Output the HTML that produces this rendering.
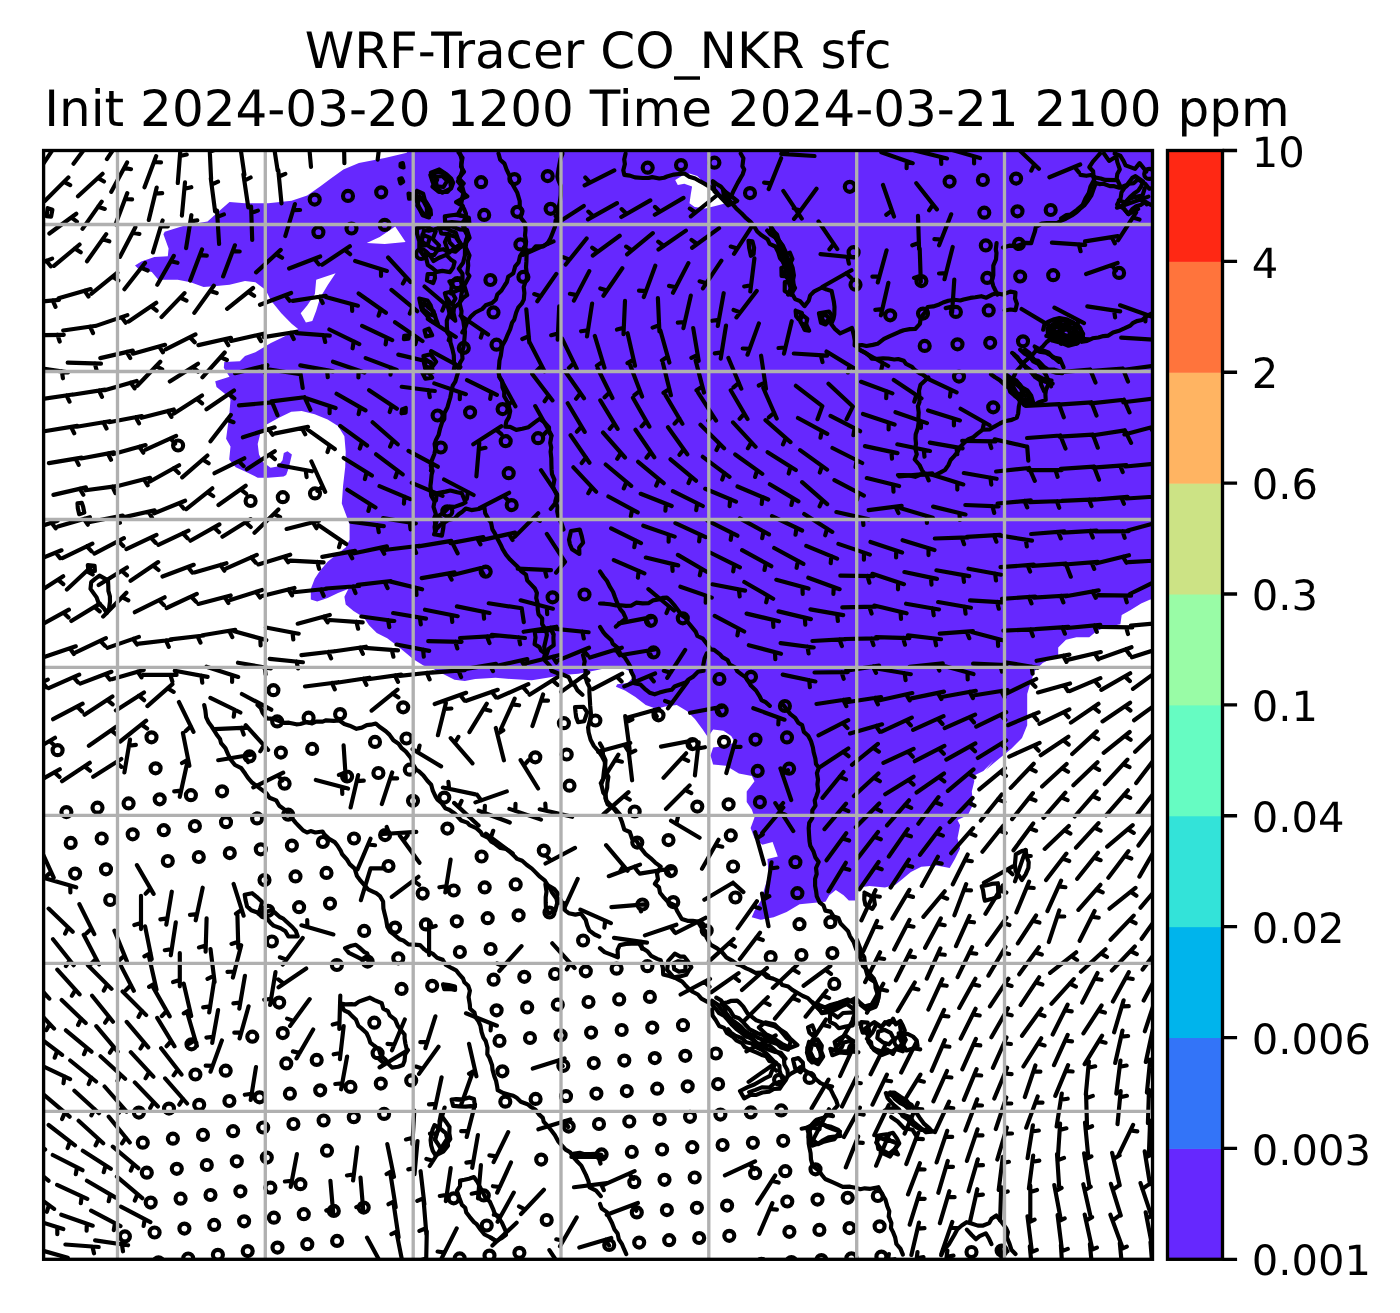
<!DOCTYPE html>
<html><head><meta charset="utf-8"><title>WRF-Tracer CO_NKR sfc</title>
<style>html,body{margin:0;padding:0;background:#fff;overflow:hidden}svg{will-change:transform}svg text{font-family:"DejaVu Sans","Liberation Sans",sans-serif;fill:#000;text-rendering:geometricPrecision}</style>
</head><body>
<svg width="1400" height="1313" viewBox="0 0 1400 1313" style="display:block">
<rect width="1400" height="1313" fill="#fff"/>
<defs><clipPath id="ax"><rect x="43.6" y="150.5" width="1108.9" height="1108.8"/></clipPath></defs>
<g clip-path="url(#ax)">
<path d="M406.8 150.5L1152.5 150.5L1152.5 599.6L1150.2 599.6L1141.1 603.5L1130.7 610.0L1121.7 615.1L1120.4 624.2L1107.4 626.8L1097.1 630.7L1089.3 637.2L1076.4 637.2L1066.0 639.7L1058.2 647.5L1058.2 655.3L1042.7 663.1L1034.9 670.8L1031.0 681.2L1027.2 694.1L1027.2 709.7L1027.2 725.2L1022.0 738.1L1011.6 748.5L998.7 758.9L985.7 770.0L993.8 760.5L983.4 770.9L973.1 776.1L974.3 781.3L971.8 791.6L973.1 804.6L967.9 814.9L957.5 820.1L960.1 825.3L957.5 838.2L960.1 848.6L954.9 858.9L949.7 868.0L936.8 865.4L921.3 866.7L910.9 871.9L903.1 878.4L895.4 884.8L885.0 887.4L869.5 886.1L859.1 887.4L856.5 900.4L848.8 900.4L843.6 895.2L835.8 890.0L829.3 895.2L825.5 901.7L812.5 903.0L799.6 904.3L786.6 912.0L773.7 917.2L760.7 919.8L751.7 917.2L754.5 910.7L761.0 900.4L764.8 887.4L768.7 874.5L767.4 858.9L777.8 856.4L772.6 842.1L762.3 844.7L754.5 838.2L750.6 827.9L754.5 817.5L751.9 809.7L746.7 802.0L746.7 791.6L754.5 781.3L751.9 776.1L738.9 773.5L726.0 765.7L713.1 764.4L710.5 755.4L713.1 747.6L723.4 746.3L735.1 742.4L731.2 735.9L723.4 730.8L713.1 729.5L707.9 737.2L702.7 729.5L694.9 719.1L687.2 711.3L676.8 704.9L666.4 706.2L656.1 708.8L645.7 704.9L635.4 697.1L625.0 690.6L615.9 686.7L617.2 684.2L627.6 682.9L632.8 677.7L630.2 671.2L619.8 666.8L604.3 668.6L591.3 671.2L578.4 673.8L562.9 675.1L547.3 677.7L531.8 680.3L511.1 679.0L495.5 677.7L475.2 679.1L464.8 681.0L454.5 679.7L444.1 674.5L433.8 669.3L423.4 665.4L413.1 658.9L405.3 652.5L397.5 646.0L387.2 638.2L376.8 633.1L369.0 625.3L363.9 617.5L353.5 611.0L345.7 604.6L344.4 596.8L348.3 589.0L338.0 592.9L327.6 598.1L317.2 601.5L310.8 599.4L310.8 589.0L314.7 578.7L319.8 570.9L327.6 561.8L335.4 555.4L345.7 547.6L349.6 539.8L349.6 524.3L345.7 513.9L341.8 503.6L343.1 485.5L345.2 467.3L345.7 451.8L344.4 436.3L338.0 425.9L327.6 419.4L314.7 414.2L301.7 410.9L291.3 411.7L278.4 418.1L266.7 424.6L260.3 433.7L257.7 444.0L259.0 454.4L262.9 462.1L270.6 467.8L277.6 466.5L282.5 460.3L283.8 453.1L287.5 451.3L291.9 454.4L288.8 467.8L286.2 475.1L283.6 476.4L268.0 477.7L257.7 477.7L247.3 472.5L235.7 467.3L229.2 459.6L230.5 446.6L226.1 438.8L229.2 415.5L230.5 400.0L229.5 397.5L223.0 392.3L216.5 387.1L215.2 381.2L221.7 379.3L229.5 376.8L223.8 367.7L224.3 362.0L239.8 361.2L245.0 356.0L255.4 352.2L270.9 343.1L281.3 337.9L291.6 332.7L298.1 328.9L291.6 323.7L281.3 313.3L270.9 300.4L265.7 290.0L255.4 282.2L245.0 280.9L229.5 284.8L216.5 286.1L203.6 286.9L190.6 282.2L177.7 279.7L158.3 279.7L151.8 271.9L138.8 269.3L135.0 265.4L141.4 261.5L154.4 256.9L167.8 256.3L168.6 248.6L163.4 234.3L164.7 231.7L185.5 225.3L207.5 221.4L217.8 212.3L229.5 202.0L245.0 203.3L268.3 203.3L291.6 200.7L307.2 195.5L320.1 186.4L330.5 178.7L343.4 169.6L358.9 163.1L384.8 157.9L406.9 152.8ZM366.7 242.9L379.7 236.9L395.2 226.6L405.6 242.1L384.8 243.9ZM316.2 279.7L335.6 273.2L327.9 284.8L320.1 297.8L316.2 310.7L312.3 321.1L305.9 322.4L300.7 313.3L307.2 305.5L314.9 293.9ZM675.2 180.0L681.7 176.1L689.5 173.5L697.2 176.1L705.0 183.8L715.4 192.9L725.7 203.3L715.4 205.9L705.0 208.4L694.7 207.1L689.5 203.3L690.8 194.2L692.1 186.4L684.3 183.8L677.8 185.1Z" fill="#6628fe" fill-rule="evenodd"/>
<path d="M460.1 153.5L461.7 159.9L461.3 164.3L462.3 170.3L460.8 175.4L457.9 181.5L462.2 186.6L463.8 192.6L462.5 196.6L461.2 203.8L464.1 209.0L466.0 213.8L465.4 219.1L462.2 222.9L464.2 229.5L467.6 235.8L465.9 240.8L464.8 246.0L465.0 249.3L464.9 255.6L463.1 262.7L458.8 268.7L462.5 273.7L462.5 281.0L463.6 285.9L461.6 293.4L460.9 298.4L459.7 303.8L461.5 311.0L461.2 315.7L463.3 321.1L464.1 326.4L465.0 331.9L464.6 336.8L464.1 342.0L463.5 347.0L462.0 352.1L462.5 358.7L460.0 362.9L458.6 370.6L456.9 376.2L455.3 381.7L452.7 385.7L451.6 390.7L450.3 397.5L448.9 402.2L447.4 407.5L444.5 413.0L444.3 419.0L442.2 422.2L440.1 428.6L438.6 434.9L436.0 439.9L434.6 443.9L435.3 449.5L434.3 454.2L431.5 461.1L430.8 465.9L432.6 470.9L431.6 474.7L431.0 481.4L430.4 485.9L431.0 492.8L431.2 495.6L434.6 501.4L433.5 506.8L435.8 514.0L434.3 518.0L435.1 522.9L435.9 529.2L434.1 534.4" fill="none" stroke="#000" stroke-width="4.17" stroke-linejoin="round" stroke-linecap="round"/>
<path d="M498.5 153.5L500.2 159.8L504.5 163.6L506.5 169.4L509.5 175.6L510.2 180.0L514.3 187.5L517.3 192.8L519.7 201.0L519.8 207.3L522.3 210.6L520.7 217.6L525.2 223.6L525.5 230.1L525.0 235.3L526.1 241.7L525.5 246.7L522.6 252.2L520.0 256.1L518.6 262.4L515.2 266.4L513.3 273.2L508.2 276.8L506.9 282.0L504.6 285.5L501.5 290.5L497.3 294.5L495.9 299.4L492.1 303.0L485.6 305.3L482.2 309.0L475.3 312.5L471.3 316.1L467.6 321.1L465.1 327.7L462.3 332.4" fill="none" stroke="#000" stroke-width="4.17" stroke-linejoin="round" stroke-linecap="round"/>
<path d="M547.5 243.1L543.4 246.4L535.7 246.3L532.4 250.1L526.7 251.1L526.5 257.2L526.4 261.4L526.0 267.3L526.8 274.2L527.0 278.2L525.2 282.6L523.7 287.1L524.4 293.0L523.8 299.6L521.7 303.7L518.4 307.3L516.2 312.5L514.2 319.7L512.1 322.6L510.2 329.2L507.6 334.8L505.6 339.8L502.4 345.6L501.8 348.8L500.8 355.6L499.5 360.5L499.0 366.8L498.5 371.9L499.4 377.2L502.1 381.2L502.5 387.5L504.2 391.5L504.2 396.2L506.8 400.7L508.8 406.0L510.2 411.1L508.9 417.1L506.3 421.6L505.3 426.7L510.1 426.9L516.3 429.9L522.3 428.8L528.5 427.2L534.4 422.6L539.6 418.9L544.7 422.7L549.0 427.5L549.1 431.7L551.4 436.1L550.2 442.8L551.2 447.5L550.6 451.7L551.3 458.2L551.4 464.6L551.6 469.7L552.0 474.2L554.4 479.6L553.1 486.7L554.5 490.1L556.9 495.5L555.3 501.2L557.6 507.3L557.2 511.4L558.4 517.3L561.7 523.8L563.5 529.5" fill="none" stroke="#000" stroke-width="4.17" stroke-linejoin="round" stroke-linecap="round"/>
<path d="M562.5 153.5L560.4 159.3L559.3 165.2L558.5 169.5L557.4 176.6L558.4 180.1L560.8 185.9L560.8 191.0L560.7 195.3L559.8 202.3L558.7 207.0L558.2 210.4L557.6 216.9L555.6 220.6L554.9 227.0L552.4 233.4L550.2 238.9L547.3 243.9" fill="none" stroke="#000" stroke-width="4.17" stroke-linejoin="round" stroke-linecap="round"/>
<path d="M436.6 528.9L440.2 525.0L444.9 522.3L448.3 520.1L454.8 518.4L458.7 514.3L462.3 511.7L465.7 508.6L471.4 510.1L478.7 509.0L484.3 506.7L485.2 513.2L488.4 519.1L491.0 522.4L492.4 529.3L494.7 533.1L497.1 538.0L500.9 545.2L502.5 548.8L506.0 554.6L510.1 559.6L513.4 562.8L517.9 567.1L521.1 571.0L526.0 574.6L527.2 580.4L531.0 584.4L534.7 588.2L536.9 592.9L536.2 598.0L537.6 603.3L537.8 609.7L538.5 614.3L542.2 618.4L542.1 624.1L546.1 630.4L546.9 635.0L545.6 640.7L544.2 646.7L545.4 652.7L543.9 658.0L544.9 660.5L550.2 666.1L551.6 670.8L557.8 673.3L562.6 674.5L568.7 677.2L571.8 683.6L574.8 685.4L577.3 690.1L582.4 694.8" fill="none" stroke="#000" stroke-width="4.17" stroke-linejoin="round" stroke-linecap="round"/>
<path d="M571.0 531.0L579.8 529.5L581.8 536.4L583.1 542.7L579.2 547.5L579.4 554.0L572.0 549.2L569.9 544.2L569.0 539.7L571.0 531.0" fill="none" stroke="#000" stroke-width="4.17" stroke-linejoin="round" stroke-linecap="round"/>
<path d="M430.3 174.9L439.5 171.4L444.1 173.2L448.1 177.4L450.4 183.0L451.2 188.4L442.5 192.7L435.1 187.4L432.5 181.7L430.3 174.9" fill="none" stroke="#000" stroke-width="4.17" stroke-linejoin="round" stroke-linecap="round"/>
<path d="M419.6 196.2L422.3 199.5L426.4 203.6L428.2 210.8L429.1 217.5L422.7 215.2L419.5 209.0L417.3 205.6L419.6 196.2" fill="none" stroke="#000" stroke-width="4.17" stroke-linejoin="round" stroke-linecap="round"/>
<path d="M423.9 230.3L428.8 230.8L434.3 229.4L439.8 227.5L447.2 228.8L451.2 230.9L455.7 232.4L458.2 239.7L461.2 244.5L454.6 247.8L449.2 252.7L443.4 249.2L437.4 250.1L431.2 247.7L426.7 244.6L421.3 241.5L422.8 236.0L423.9 230.3" fill="none" stroke="#000" stroke-width="4.17" stroke-linejoin="round" stroke-linecap="round"/>
<path d="M426.0 251.6L430.2 255.6L433.6 261.1L438.6 258.0L446.2 254.8L450.7 259.4L454.6 262.0L453.2 267.5L450.0 272.1L442.4 270.9L436.7 271.9L432.6 268.3L427.8 265.1L426.0 257.5L426.0 251.6" fill="none" stroke="#000" stroke-width="4.17" stroke-linejoin="round" stroke-linecap="round"/>
<path d="M449.4 281.5L455.0 280.2L460.3 278.6L462.0 285.5L462.6 289.1L457.0 290.6L450.9 293.3L451.8 285.6L449.4 281.5" fill="none" stroke="#000" stroke-width="4.17" stroke-linejoin="round" stroke-linecap="round"/>
<path d="M423.9 302.8L428.0 307.2L433.5 311.2L435.6 318.0L438.0 324.2L430.6 320.6L425.6 314.0L421.9 310.0L423.9 302.8" fill="none" stroke="#000" stroke-width="4.17" stroke-linejoin="round" stroke-linecap="round"/>
<path d="M447.3 298.5L450.4 303.2L454.1 306.1L453.5 313.1L455.3 320.7L449.9 315.9L448.9 310.3L447.1 304.1L447.3 298.5" fill="none" stroke="#000" stroke-width="4.17" stroke-linejoin="round" stroke-linecap="round"/>
<path d="M423.9 358.3L430.9 363.0L432.9 372.0L425.2 368.2L424.0 362.9L423.9 358.3" fill="none" stroke="#000" stroke-width="4.17" stroke-linejoin="round" stroke-linecap="round"/>
<path d="M432.4 494.7L437.8 493.1L445.6 491.6L450.3 490.5L457.2 492.3L461.7 493.1L464.1 498.7L465.5 502.5L461.9 504.3L454.5 506.9L449.8 506.6L444.2 512.2L437.9 516.5L436.4 520.6L434.9 525.2L435.8 530.7" fill="none" stroke="#000" stroke-width="4.17" stroke-linejoin="round" stroke-linecap="round"/>
<path d="M436.6 516.1L441.1 519.1L443.7 523.7L443.2 528.7L441.9 535.7L435.4 534.4L434.6 527.0L436.5 521.2L436.6 516.1" fill="none" stroke="#000" stroke-width="4.17" stroke-linejoin="round" stroke-linecap="round"/>
<path d="M91.2 582.2L95.1 578.9L99.5 575.6L108.0 580.4L108.3 586.1L108.4 590.9L109.9 596.2L110.0 601.6L109.1 608.2L106.7 613.0L103.9 608.2L98.5 602.7L96.6 597.4L90.5 588.9L91.2 582.2" fill="none" stroke="#000" stroke-width="4.17" stroke-linejoin="round" stroke-linecap="round"/>
<path d="M87.8 565.1L94.6 565.9L94.9 571.0L88.5 571.2L87.8 565.1" fill="none" stroke="#000" stroke-width="4.17" stroke-linejoin="round" stroke-linecap="round"/>
<path d="M77.5 503.3L81.8 502.8L83.1 506.7L84.3 512.6L79.2 514.2L77.8 508.2L77.5 503.3" fill="none" stroke="#000" stroke-width="4.17" stroke-linejoin="round" stroke-linecap="round"/>
<path d="M47.7 208.1L52.4 209.7L51.1 216.7L46.5 216.2L47.7 208.1" fill="none" stroke="#000" stroke-width="4.17" stroke-linejoin="round" stroke-linecap="round"/>
<path d="M534.7 631.2L541.5 631.0L546.8 630.8L551.2 629.4L553.6 635.0L553.4 638.2L553.7 645.3L548.6 648.9L546.6 654.5L541.1 650.6L539.4 647.1L534.6 644.3L535.5 637.6L534.7 631.2" fill="none" stroke="#000" stroke-width="4.17" stroke-linejoin="round" stroke-linecap="round"/>
<path d="M625.6 153.5L624.2 159.4L624.9 164.1L623.3 170.3L624.3 174.9L629.9 175.6L635.0 177.4L642.9 178.0L648.5 178.0L652.2 177.1L659.3 178.5L664.1 177.7L667.0 176.5L673.9 174.6L680.8 173.8L684.4 173.5L689.3 176.7L695.1 178.5L699.8 181.2L704.4 183.6L711.1 187.7L715.9 191.2L720.6 197.2L724.3 201.1L728.2 205.3" fill="none" stroke="#000" stroke-width="4.17" stroke-linejoin="round" stroke-linecap="round"/>
<path d="M740.7 153.5L743.4 158.3L742.4 166.2L744.2 169.6L742.6 174.5L740.3 178.4L737.7 182.9L733.9 190.2L731.3 195.9L728.5 199.3L733.2 204.9L736.0 208.2L741.7 213.5L746.2 218.2L750.5 221.9L754.1 226.3L757.2 231.5L761.6 235.3L767.5 239.2L769.7 243.9L775.3 246.5L778.0 251.7L780.0 258.1L783.4 262.3L785.3 268.0L788.7 272.5L788.4 278.5L789.3 283.9L791.0 288.8L792.4 294.3L795.1 299.1L800.1 301.2L804.5 306.1L808.7 300.7L810.2 295.4L814.3 291.3L821.9 287.5L826.7 289.6L831.6 290.9L833.1 298.2L833.9 302.0L834.5 307.0L834.3 314.3L833.5 318.7L831.2 324.1L834.6 328.6L840.1 333.3L845.2 331.1L852.0 328.0L853.8 334.9L854.8 340.9L854.6 345.5L861.9 345.0L866.4 346.0L872.8 344.9L877.5 343.8L884.0 338.8L889.3 336.3L899.5 331.8L903.7 330.2L909.8 329.1L915.2 329.0L919.9 323.9L920.8 317.4L926.1 311.2L927.6 307.0L933.2 306.4L939.2 304.4L943.1 302.5L948.3 300.8L954.4 299.8L960.3 300.5L963.5 299.6L970.3 297.9L975.3 297.3L981.3 296.2L986.3 297.7L992.2 294.6L996.7 293.3L1002.6 294.5L1010.3 291.6L1015.5 292.5L1015.0 298.6L1016.9 303.7L1015.5 310.1L1010.5 309.5L1004.6 310.5" fill="none" stroke="#000" stroke-width="4.17" stroke-linejoin="round" stroke-linecap="round"/>
<path d="M770.6 226.0L774.4 232.0L777.0 234.5L778.8 240.2L781.3 244.3L782.6 250.1L784.8 255.1L786.4 259.1L786.5 266.3L784.3 273.6L787.3 278.2L791.8 286.0L788.1 294.6" fill="none" stroke="#000" stroke-width="4.17" stroke-linejoin="round" stroke-linecap="round"/>
<path d="M774.9 236.7L778.1 241.8L779.4 246.5L782.1 249.9L784.5 254.4L786.8 259.3L790.4 264.4L791.8 269.6L792.1 274.1L789.8 282.7" fill="none" stroke="#000" stroke-width="4.17" stroke-linejoin="round" stroke-linecap="round"/>
<path d="M996.6 243.1L995.8 249.5L996.5 253.0L996.0 259.4L993.3 265.6L993.3 269.2L993.3 275.3L991.9 280.9L993.2 285.8L997.4 294.6" fill="none" stroke="#000" stroke-width="4.17" stroke-linejoin="round" stroke-linecap="round"/>
<path d="M1003.0 247.4L1009.2 245.7L1013.4 245.9L1018.5 245.5L1025.9 242.8L1031.2 243.1L1032.5 238.6L1034.9 231.5L1035.9 226.8L1041.6 223.7L1046.8 223.2L1050.1 223.1L1057.2 223.0L1061.3 220.5L1065.8 218.7L1071.8 215.5L1076.7 212.1L1079.6 209.2L1084.2 205.5L1088.2 200.2L1091.4 195.4L1093.6 189.1L1095.9 183.1L1099.5 184.1L1103.5 183.7L1109.8 186.1L1113.5 186.0L1119.3 187.7L1125.9 186.6L1129.0 183.8L1133.9 183.1L1137.9 179.3L1140.5 180.9L1145.2 183.7L1149.2 188.8L1154.7 187.6L1160.7 186.2" fill="none" stroke="#000" stroke-width="4.17" stroke-linejoin="round" stroke-linecap="round"/>
<path d="M1094.7 183.4L1093.7 178.2L1093.1 171.2L1089.3 167.2L1092.9 161.7L1097.0 157.0L1100.1 153.5" fill="none" stroke="#000" stroke-width="4.17" stroke-linejoin="round" stroke-linecap="round"/>
<path d="M1124.6 187.7L1121.5 192.4L1120.6 198.2L1117.2 204.6L1123.3 208.2L1128.6 214.1L1132.2 209.2L1136.2 206.2L1140.6 204.9L1145.4 201.7L1149.7 204.3L1155.3 206.6L1160.4 208.4" fill="none" stroke="#000" stroke-width="4.17" stroke-linejoin="round" stroke-linecap="round"/>
<path d="M1160.0 309.2L1155.7 311.2L1152.0 313.5L1146.8 316.0L1142.1 320.0L1136.8 321.1L1132.7 323.2L1130.3 325.6L1124.9 328.2L1119.9 330.4L1113.1 332.5L1108.4 335.6L1103.4 336.1L1098.4 337.5L1092.6 338.3L1087.0 340.9L1082.0 341.8L1077.3 339.3L1071.7 336.7L1066.3 335.5L1059.6 333.8L1056.0 334.9L1051.2 338.6L1046.7 342.0L1043.3 345.9L1039.2 349.8L1035.4 351.4L1031.7 355.6L1027.7 358.9L1024.5 361.8L1019.5 368.0L1015.7 372.1L1014.8 374.4L1010.7 382.8L1010.6 389.1L1013.6 393.0L1016.1 395.4L1020.4 401.9L1026.2 402.4L1028.8 402.9L1034.9 404.5L1039.1 402.2L1045.7 399.9L1045.4 394.3L1045.9 390.3L1048.8 383.1" fill="none" stroke="#000" stroke-width="4.17" stroke-linejoin="round" stroke-linecap="round"/>
<path d="M1047.8 322.0L1054.3 319.3L1059.4 318.1L1066.3 319.2L1073.2 322.4L1079.0 327.2L1083.2 333.9L1077.0 335.8L1072.5 342.1L1068.7 341.6L1064.7 340.2L1058.6 337.9L1053.0 336.7L1050.4 333.3L1049.1 327.8L1047.8 322.0" fill="none" stroke="#000" stroke-width="4.17" stroke-linejoin="round" stroke-linecap="round"/>
<path d="M1052.1 326.3L1057.2 324.2L1064.6 324.6L1069.3 326.3L1074.9 331.2L1070.4 334.4L1067.4 336.0L1061.8 335.7L1056.1 336.1L1052.1 326.3" fill="none" stroke="#000" stroke-width="4.17" stroke-linejoin="round" stroke-linecap="round"/>
<path d="M1013.7 354.0L1016.9 357.5L1021.7 363.6L1026.5 367.4L1029.7 371.1L1035.9 375.4L1040.5 380.6L1041.1 384.7L1044.2 391.4" fill="none" stroke="#000" stroke-width="4.17" stroke-linejoin="round" stroke-linecap="round"/>
<path d="M1020.1 349.7L1024.6 353.6L1029.5 356.3L1033.3 361.4L1038.2 363.8L1041.8 369.2L1045.7 374.4L1047.9 379.4L1051.1 386.3" fill="none" stroke="#000" stroke-width="4.17" stroke-linejoin="round" stroke-linecap="round"/>
<path d="M1020.1 400.9L1018.8 406.8L1018.2 413.3L1016.8 417.6L1011.7 419.9L1004.7 421.2L999.9 423.5L993.9 426.8L989.9 429.3L982.8 429.6L977.5 433.7L973.4 437.2L967.9 439.5L964.0 443.0L959.9 447.1L957.3 452.4L954.2 456.1L950.6 460.0L948.4 465.1L945.0 470.0L940.6 472.4L935.3 475.0L931.3 474.2L925.9 474.6L920.8 474.5L915.2 476.8L909.0 475.4L902.9 475.0L897.9 475.0" fill="none" stroke="#000" stroke-width="4.17" stroke-linejoin="round" stroke-linecap="round"/>
<path d="M928.4 377.4L924.3 381.3L920.5 384.8L919.0 390.7L919.3 395.9L919.5 402.0L917.9 406.2L918.7 412.5L918.4 417.6L918.7 422.0L917.8 428.3L915.7 434.4L915.5 438.6L916.0 443.7L915.3 448.8L916.8 454.2L914.7 459.5L919.5 465.0L922.1 470.4L924.1 473.1" fill="none" stroke="#000" stroke-width="4.17" stroke-linejoin="round" stroke-linecap="round"/>
<path d="M855.9 345.5L859.7 349.9L865.6 352.9L869.5 356.0L871.7 358.6L877.4 358.9L883.0 358.4L888.4 358.5L894.3 359.5L898.2 359.0L903.8 360.8L906.1 363.9L912.0 366.8L914.8 370.0L919.4 373.1L923.3 375.0L928.1 378.7" fill="none" stroke="#000" stroke-width="4.17" stroke-linejoin="round" stroke-linecap="round"/>
<path d="M800.5 313.5L807.3 318.8L805.0 329.3L800.5 322.0L800.5 313.5" fill="none" stroke="#000" stroke-width="4.17" stroke-linejoin="round" stroke-linecap="round"/>
<path d="M600.0 571.5L603.6 576.7L607.0 581.0L610.1 587.2L613.1 592.0L615.0 597.3L617.5 603.7L620.4 609.4L623.2 612.6L625.9 618.5L620.4 622.8L615.8 626.6" fill="none" stroke="#000" stroke-width="4.17" stroke-linejoin="round" stroke-linecap="round"/>
<path d="M600.0 603.5L604.6 603.7L609.9 604.3L616.2 605.5L620.7 605.3L625.8 605.9L631.5 605.6L636.2 602.7L642.5 603.3L648.4 603.2L652.9 600.4L658.6 599.5L662.5 597.9L666.9 597.6L670.3 600.5L674.9 605.9L678.1 610.2L681.8 615.3L685.7 618.1L687.5 621.7L691.1 626.1L695.8 631.9L697.4 636.0L702.9 638.7L707.4 644.6L710.8 649.4L714.1 649.9L720.0 654.4L722.4 657.1L727.5 660.0L729.8 664.7L735.4 667.6L737.2 671.1L741.8 674.6L745.8 677.4L749.4 683.0L750.9 685.6L756.0 690.5L759.7 696.3L761.5 700.1L765.6 702.2L769.8 705.8" fill="none" stroke="#000" stroke-width="4.17" stroke-linejoin="round" stroke-linecap="round"/>
<path d="M600.0 626.9L603.3 632.2L605.6 634.9L611.4 640.2L612.7 643.6L618.0 648.1L620.1 653.6L624.6 657.2L627.6 661.8L630.2 666.2L631.0 671.2L633.6 676.4L634.2 683.3L640.4 684.5L645.8 689.7L649.6 692.7L654.7 694.3L659.5 692.6L666.2 690.8L671.6 689.8L674.6 686.5L679.2 684.7L685.6 682.6L688.5 679.5L692.8 676.9L698.0 671.8L703.6 670.8L703.3 665.0L704.6 658.3L706.8 653.3" fill="none" stroke="#000" stroke-width="4.17" stroke-linejoin="round" stroke-linecap="round"/>
<path d="M204.2 705.0L205.3 710.0L206.2 717.4L208.7 722.6L211.3 726.0L214.4 730.8L217.2 735.3L220.0 739.0L221.1 743.2L225.4 748.2L228.1 754.4L230.8 759.8L235.0 765.0L241.3 768.2L245.3 773.8L248.0 777.9L252.3 782.8L258.0 786.8L260.6 788.8L266.4 793.2L269.5 797.7L276.2 800.4L279.3 805.7L285.0 809.9L288.8 813.5L291.1 817.1L295.8 822.9L299.3 826.5L303.1 830.4L307.0 832.5L310.6 831.1L315.3 832.5L322.5 831.5L324.7 834.8L329.1 838.9L334.7 842.1L337.4 845.5L340.9 851.2L342.1 854.1L347.0 859.7L349.7 864.1L354.7 868.6L357.0 876.1L360.7 880.9L364.4 885.2L368.1 889.4L373.3 891.8L376.2 893.2L380.0 896.1L383.1 901.5L383.4 908.5L384.6 913.5L386.2 920.1L387.3 926.7L390.0 931.6L394.1 934.6L399.5 939.2L403.4 940.5L408.4 944.3L414.3 944.6L420.0 945.1L424.4 949.4L427.0 951.3L432.6 953.6L437.1 957.7L442.7 959.7L445.7 964.7L451.9 968.2L456.1 970.3L458.9 973.9L463.0 978.5L464.4 982.2L468.2 985.8L469.9 990.7L468.6 997.1L469.8 1004.4L470.1 1008.7L474.5 1012.6L475.4 1017.0L478.5 1021.4L480.4 1025.6L481.6 1032.2L483.4 1037.6L485.7 1041.0L487.5 1047.7L487.3 1054.2L489.4 1057.8L492.1 1065.3L492.5 1069.6L494.3 1076.3L496.1 1081.0L497.2 1086.6L497.7 1090.2L503.4 1093.1L509.2 1094.7L513.3 1095.8L516.7 1097.8L520.8 1101.8L527.5 1104.2L531.1 1107.0L535.5 1109.8L538.7 1114.1L542.8 1117.9L543.8 1121.9L548.4 1126.8L551.8 1131.0L554.8 1135.0L558.2 1141.3L561.3 1144.8L565.6 1149.6L570.1 1152.2L574.0 1157.8L576.3 1160.5L581.3 1165.6L583.9 1170.9L585.9 1174.9L588.5 1181.3L589.6 1187.4L596.1 1190.6L600.8 1196.1" fill="none" stroke="#000" stroke-width="4.17" stroke-linejoin="round" stroke-linecap="round"/>
<path d="M257.5 705.0L260.7 708.0L262.6 712.8L266.7 718.3L273.5 718.9L278.6 720.8L283.8 722.8L289.0 722.7L296.3 724.3L300.3 724.0L306.9 722.1L312.1 723.4L316.0 721.6L322.7 721.6L326.1 720.3L333.8 720.9L339.4 720.5L344.3 724.0L349.6 725.7L356.5 728.8L361.9 727.6L366.8 725.1L370.9 724.7L375.8 723.5L380.2 727.3L385.8 731.3L389.4 734.6L393.4 740.3L398.6 743.7L401.7 748.2L405.9 751.6L410.9 758.0L412.6 763.8L416.2 769.7L418.9 771.3L423.4 775.5L427.4 780.8L431.2 784.8L432.8 790.7L435.6 796.6L437.5 799.6L441.8 803.2L445.4 808.4L449.2 809.8L455.0 813.8L456.9 815.8L461.2 820.5L467.3 822.6L469.6 825.2L476.3 828.2L480.5 831.8L482.3 834.9L488.3 838.0L491.5 841.8L495.3 844.0L500.5 848.0L505.9 848.9L509.2 851.3L514.5 856.3L517.2 858.9L522.2 860.8L526.9 865.0L531.9 868.6L534.9 871.6L539.9 876.7L545.0 880.7L546.3 883.0L550.7 889.6L552.1 892.6L555.7 897.6L561.0 900.2L563.1 905.6L565.4 910.7L568.7 913.2L575.4 914.6L580.9 913.5L585.8 920.1L587.2 925.4L589.2 930.3L594.7 934.5L599.3 936.7" fill="none" stroke="#000" stroke-width="4.17" stroke-linejoin="round" stroke-linecap="round"/>
<path d="M244.7 894.8L252.1 893.2L256.6 896.8L262.2 902.0L260.6 907.6L258.4 913.8L264.6 912.8L270.4 910.4L274.4 912.1L279.8 917.0L282.8 918.3L287.4 922.5L292.3 927.0L295.9 931.2L297.7 936.3L288.4 936.5L285.4 931.2L280.6 928.3L273.5 925.6L270.5 922.9L266.5 917.9L262.1 916.9L257.5 912.5L251.2 910.2L247.1 906.4L245.5 900.0L244.7 894.8" fill="none" stroke="#000" stroke-width="4.17" stroke-linejoin="round" stroke-linecap="round"/>
<path d="M340.7 1003.6L345.4 1004.4L351.6 1004.1L354.9 1004.5L358.9 1001.6L363.3 1000.0L369.7 997.7L374.5 1000.1L381.7 1003.1L383.3 1008.7L387.9 1011.1L389.7 1015.3L395.2 1019.6L397.9 1026.1L399.9 1028.8L404.6 1034.5L404.6 1038.5L405.4 1043.6L407.2 1051.3L405.2 1054.2L404.5 1061.0L402.9 1065.0L398.1 1066.8L392.1 1067.6L387.6 1063.1L385.5 1059.5L380.8 1055.6L378.9 1049.3L373.9 1045.5L370.3 1042.6L368.8 1037.8L366.5 1033.0L361.2 1028.1L358.4 1025.8L355.9 1019.5L351.9 1015.9L348.8 1012.5L344.1 1010.3L340.7 1003.6" fill="none" stroke="#000" stroke-width="4.17" stroke-linejoin="round" stroke-linecap="round"/>
<path d="M460.1 1180.6L464.5 1179.8L469.0 1178.7L473.9 1177.1L477.3 1181.7L480.2 1187.6L482.4 1191.5L485.5 1197.7L489.9 1201.8L493.0 1208.8L494.5 1213.0L499.7 1219.3L501.9 1222.6L505.6 1230.8L506.0 1234.9L502.3 1237.7L496.1 1241.2L490.6 1237.5L484.5 1234.5L480.8 1230.0L476.7 1224.2L474.0 1222.1L469.8 1217.1L466.3 1212.5L465.2 1207.7L462.0 1204.9L459.2 1197.5L456.9 1190.9L460.0 1186.2L460.1 1180.6" fill="none" stroke="#000" stroke-width="4.17" stroke-linejoin="round" stroke-linecap="round"/>
<path d="M345.0 948.1L351.3 945.7L355.8 944.8L359.2 947.4L364.4 952.1L367.2 953.4L370.1 961.7L366.1 958.9L361.0 958.8L356.1 956.3L348.9 952.9L345.0 948.1" fill="none" stroke="#000" stroke-width="4.17" stroke-linejoin="round" stroke-linecap="round"/>
<path d="M440.9 1114.4L443.4 1118.5L446.5 1122.6L449.5 1127.0L449.3 1133.4L450.3 1139.0L445.6 1145.5L440.9 1148.7L438.8 1145.3L434.7 1139.3L436.7 1133.3L440.0 1126.0L439.5 1121.3L440.9 1114.4" fill="none" stroke="#000" stroke-width="4.17" stroke-linejoin="round" stroke-linecap="round"/>
<path d="M434.5 1125.1L440.0 1128.4L445.7 1133.1L447.4 1139.2L448.0 1145.6L443.2 1151.7L435.6 1155.4L432.7 1150.7L431.2 1145.5L430.6 1140.0L431.2 1135.8L432.6 1129.5L434.5 1125.1" fill="none" stroke="#000" stroke-width="4.17" stroke-linejoin="round" stroke-linecap="round"/>
<path d="M451.6 1099.5L456.3 1099.0L462.3 1099.5L469.2 1097.4L473.9 1098.9L475.0 1106.5L470.7 1106.1L465.7 1106.6L459.4 1106.3L453.1 1105.8L451.6 1099.5" fill="none" stroke="#000" stroke-width="4.17" stroke-linejoin="round" stroke-linecap="round"/>
<path d="M545.4 884.1L549.7 886.4L554.3 889.1L558.1 893.9L556.4 897.9L557.2 903.0L555.2 910.6L548.8 913.5L546.0 909.5L545.7 902.9L545.7 897.3L546.5 891.7L545.4 884.1" fill="none" stroke="#000" stroke-width="4.17" stroke-linejoin="round" stroke-linecap="round"/>
<path d="M443.0 984.4L448.8 985.0L455.0 986.5L455.1 990.0L450.6 989.0L444.3 989.2L443.0 984.4" fill="none" stroke="#000" stroke-width="4.17" stroke-linejoin="round" stroke-linecap="round"/>
<path d="M573.1 1153.7L579.7 1152.8L584.5 1154.2L590.4 1154.2L595.7 1153.8L601.3 1154.7" fill="none" stroke="#000" stroke-width="4.17" stroke-linejoin="round" stroke-linecap="round"/>
<path d="M783.4 705.0L787.3 710.3L790.4 714.1L795.2 717.8L798.2 722.7L802.1 725.1L803.9 731.9L808.2 735.7L811.0 741.1L812.9 747.5L813.6 752.0L815.4 758.7L816.0 764.1L818.8 767.8L816.9 773.2L818.0 779.4L817.4 784.3L818.2 791.0L816.3 796.5L814.7 800.6L815.5 805.6L812.3 810.4L812.3 818.1L809.2 822.9L808.7 828.2L809.0 834.1L809.5 841.2L810.3 845.8L813.6 851.8L815.3 857.2L818.7 862.0L816.0 868.0L816.7 874.0L815.1 878.8L815.1 885.9L816.1 891.1L816.8 896.4L819.6 902.3L823.5 905.4L825.3 910.6L830.5 911.6L833.7 916.6L838.4 918.0L840.6 923.5L843.9 926.9L848.0 931.1L849.9 936.1L853.6 941.8L856.2 949.3L859.1 954.2L860.4 958.6L863.1 966.2L865.5 968.3L869.5 973.5L873.9 978.6L876.0 984.4L879.3 991.2L878.7 997.6L876.5 1004.3L869.7 1005.1L864.6 1006.6L860.4 1003.1L855.5 998.2L849.2 1001.6L841.9 1004.4L838.0 1005.7L830.4 1008.6L822.2 1012.5L817.5 1007.9L812.9 1002.5" fill="none" stroke="#000" stroke-width="4.17" stroke-linejoin="round" stroke-linecap="round"/>
<path d="M600.0 743.4L602.5 748.1L603.0 754.7L605.5 760.1L605.2 766.0L606.1 772.2L608.4 777.0L607.4 783.0L607.2 787.7L605.8 793.2L605.4 798.2L607.6 804.4L612.2 806.8L616.9 812.7L619.6 816.0L622.1 822.3L624.3 829.7L629.8 832.0L632.0 838.5L636.8 841.3L640.0 847.0L642.7 850.4L645.7 854.2L650.5 858.1L655.2 862.6L660.7 866.7L657.0 873.6L658.0 879.3L654.9 883.8L659.0 887.3L660.0 892.7L663.3 896.8L668.4 902.4L674.6 905.1L677.3 911.3L681.8 919.0L687.5 920.8L692.7 920.8L697.9 921.6L700.9 926.7L705.4 931.2L706.6 937.5L710.5 944.6L717.1 948.4L722.0 952.2L726.3 957.4L732.9 961.1L737.6 964.6L741.3 965.6L746.2 968.4L749.9 969.9L755.5 972.8L762.2 972.7L767.0 977.2L773.0 978.6L779.9 981.6L782.3 985.1L788.3 986.6L792.3 989.9L798.6 993.5L802.9 996.0L807.9 998.1L813.3 1003.5L816.6 1006.8" fill="none" stroke="#000" stroke-width="4.17" stroke-linejoin="round" stroke-linecap="round"/>
<path d="M600.0 948.1L604.6 952.1L610.5 954.4L617.9 957.3L617.6 949.9L619.8 945.1L626.0 943.9L631.7 943.6L639.0 943.7L642.7 948.4L647.3 951.2L651.2 955.8L657.1 958.9L660.7 960.2L662.9 967.9L663.2 974.4L669.4 976.0L676.2 978.4L682.2 981.7L684.9 984.7L689.5 989.5L693.1 992.0L697.9 994.5L701.4 998.7L706.4 1001.3L711.2 1003.6L716.0 1008.8L718.8 1012.9L724.2 1015.8L727.4 1019.5L732.0 1024.8L736.4 1029.1L740.9 1032.4L745.7 1036.4L752.0 1038.2L757.2 1043.2L765.0 1044.7L770.2 1046.0L775.4 1050.6L779.5 1053.5L783.9 1058.2L784.4 1064.8L787.4 1070.1L788.0 1075.3L786.0 1079.7L782.1 1085.1L779.6 1088.7L773.8 1089.0L769.0 1091.8L762.3 1092.5L756.3 1094.9L750.5 1095.0L744.2 1098.4L740.0 1091.0L747.7 1087.1L754.3 1084.5L760.4 1081.0L764.7 1078.5L770.0 1075.9L772.5 1069.4L775.8 1062.8L769.4 1061.1L766.2 1056.3L762.7 1055.3L756.8 1052.7L750.1 1049.9L744.7 1047.1L742.0 1043.1L736.3 1040.4L732.8 1036.6L726.9 1033.0L724.2 1027.9L719.2 1026.0L715.7 1020.0L712.5 1015.5L712.0 1009.4" fill="none" stroke="#000" stroke-width="4.17" stroke-linejoin="round" stroke-linecap="round"/>
<path d="M721.6 1003.6L727.7 1002.3L731.4 1000.8L737.2 1000.6L739.8 1002.9L743.3 1006.7L747.5 1013.4L751.4 1016.3L756.3 1020.3L762.2 1022.4L766.5 1024.0L774.5 1026.2L779.4 1029.3L783.3 1034.0L786.7 1038.1L790.8 1041.2L788.1 1049.7L781.0 1047.6L776.7 1043.5L771.1 1042.2L763.6 1040.0L757.9 1037.8L753.8 1035.2L748.9 1033.6L744.2 1030.1L740.7 1026.4L737.5 1024.0L733.7 1021.2L728.1 1017.3L726.0 1014.1L724.8 1007.7L721.6 1003.6" fill="none" stroke="#000" stroke-width="4.17" stroke-linejoin="round" stroke-linecap="round"/>
<path d="M728.0 1029.1L731.0 1032.6L735.2 1035.6L742.0 1038.2L746.2 1042.3L751.7 1043.5L757.0 1047.7L762.3 1050.2L767.6 1054.6L771.2 1058.4L775.0 1062.5L779.4 1065.6L779.6 1070.5L781.1 1075.6L783.2 1081.0L778.7 1082.1L773.5 1083.9L769.7 1087.6L761.8 1087.4L755.5 1089.9L749.1 1092.1" fill="none" stroke="#000" stroke-width="4.17" stroke-linejoin="round" stroke-linecap="round"/>
<path d="M668.2 960.9L674.8 953.7L680.3 956.7L684.1 956.5L687.5 960.8L691.4 967.2L688.6 970.7L686.3 974.8L679.9 976.4L673.5 977.2L667.1 969.9L668.2 960.9" fill="none" stroke="#000" stroke-width="4.17" stroke-linejoin="round" stroke-linecap="round"/>
<path d="M673.4 963.5L678.2 961.2L685.6 962.2L685.3 970.8L678.9 971.6L674.2 969.1L673.4 963.5" fill="none" stroke="#000" stroke-width="4.17" stroke-linejoin="round" stroke-linecap="round"/>
<path d="M787.7 1076.1L791.4 1073.4L795.6 1071.2L800.4 1067.1L805.8 1071.1L809.9 1073.6L812.4 1075.8L816.8 1080.0L820.5 1083.2L825.2 1085.2L830.6 1089.3L833.2 1094.7L836.2 1100.5L837.8 1105.4L833.3 1110.4L829.8 1113.8L823.3 1117.7L816.6 1119.8L815.7 1122.2L812.7 1126.4L809.4 1130.5L808.5 1137.2L808.7 1143.7L809.4 1147.4L810.6 1153.2L811.0 1159.7L812.8 1165.8L818.8 1170.6L821.9 1175.0L825.2 1179.0L833.0 1182.4L837.4 1184.3L842.8 1186.8L850.1 1186.7L855.4 1187.7L860.3 1189.2L864.7 1188.3L870.3 1188.8L878.4 1187.2L880.8 1191.8L882.2 1194.4L885.4 1199.5L887.2 1205.9L889.3 1211.3L888.7 1216.4L891.4 1223.1L890.9 1228.0L893.2 1232.4L895.2 1237.6L896.4 1244.0L900.4 1248.6L902.9 1254.6" fill="none" stroke="#000" stroke-width="4.17" stroke-linejoin="round" stroke-linecap="round"/>
<path d="M830.3 1012.1L836.0 1009.4L842.5 1005.9L846.9 1004.1L851.6 1007.5L855.7 1011.6L852.9 1018.8L852.7 1025.4L845.6 1026.6L838.7 1028.2L835.2 1024.3L829.8 1021.9L830.3 1012.1" fill="none" stroke="#000" stroke-width="4.17" stroke-linejoin="round" stroke-linecap="round"/>
<path d="M864.4 1029.1L869.8 1025.1L874.2 1022.1L881.4 1026.8L885.4 1022.8L889.1 1021.0L899.8 1024.0L900.8 1031.2L905.0 1038.4L900.3 1046.4L893.4 1050.6L886.8 1053.1L881.7 1055.0L874.1 1050.0L868.3 1041.8L867.7 1035.0L864.4 1029.1" fill="none" stroke="#000" stroke-width="4.17" stroke-linejoin="round" stroke-linecap="round"/>
<path d="M809.0 1041.9L817.4 1045.7L820.7 1052.6L820.7 1059.6L812.1 1062.5L808.9 1059.3L807.7 1055.0L807.2 1049.2L809.0 1041.9" fill="none" stroke="#000" stroke-width="4.17" stroke-linejoin="round" stroke-linecap="round"/>
<path d="M877.2 1135.8L882.9 1134.7L888.4 1134.0L893.0 1132.8L897.0 1138.7L899.3 1143.5L895.1 1149.0L889.1 1153.8L884.5 1151.3L878.3 1149.0L877.0 1141.0L877.2 1135.8" fill="none" stroke="#000" stroke-width="4.17" stroke-linejoin="round" stroke-linecap="round"/>
<path d="M885.8 1093.1L890.9 1094.7L897.3 1097.2L901.8 1099.6L906.7 1102.0L911.5 1104.8L914.1 1109.6L917.7 1114.8L919.6 1117.7L924.2 1123.9L929.2 1128.1L931.7 1131.1L927.2 1129.7L920.6 1129.8L916.0 1127.0L911.3 1123.5L907.8 1119.4L902.4 1115.7L899.2 1109.6L894.5 1105.7L891.5 1102.6L887.7 1098.2L885.8 1093.1" fill="none" stroke="#000" stroke-width="4.17" stroke-linejoin="round" stroke-linecap="round"/>
<path d="M809.0 1127.2L814.3 1124.9L821.1 1122.8L826.8 1126.8L833.3 1129.3L840.0 1131.5L834.5 1139.1L829.6 1140.3L822.8 1142.0L818.1 1144.2L813.7 1140.5L810.7 1137.9L809.0 1127.2" fill="none" stroke="#000" stroke-width="4.17" stroke-linejoin="round" stroke-linecap="round"/>
<path d="M941.2 1255.2L943.3 1250.6L948.8 1244.3L952.0 1239.0L954.3 1235.0L957.5 1229.1L961.7 1225.5L966.6 1222.2L971.4 1223.4L977.9 1225.6L982.6 1225.7L989.2 1223.1L991.5 1218.7L996.3 1215.5L1002.1 1222.8L1006.0 1227.9L1007.9 1232.2L1006.8 1237.1L1009.3 1243.2L1011.4 1249.7L1015.5 1254.0" fill="none" stroke="#000" stroke-width="4.17" stroke-linejoin="round" stroke-linecap="round"/>
<path d="M966.8 1229.6L971.7 1235.0L976.0 1239.2L979.6 1236.2L985.8 1233.3L989.1 1238.8L991.5 1244.2" fill="none" stroke="#000" stroke-width="4.17" stroke-linejoin="round" stroke-linecap="round"/>
<path d="M1015.8 854.3L1021.7 851.1L1025.6 850.3L1026.8 856.8L1028.7 862.3L1028.4 867.9L1025.6 874.3L1021.8 880.0L1018.9 875.4L1015.6 871.1L1014.9 864.7L1015.3 860.5L1015.8 854.3" fill="none" stroke="#000" stroke-width="4.17" stroke-linejoin="round" stroke-linecap="round"/>
<path d="M981.7 886.3L987.8 885.0L991.6 883.9L997.9 883.2L998.2 890.8L999.3 896.7L992.1 898.8L984.9 900.7L984.0 896.9L983.0 890.2L981.7 886.3" fill="none" stroke="#000" stroke-width="4.17" stroke-linejoin="round" stroke-linecap="round"/>
<path d="M864.4 892.7L869.3 895.1L873.8 898.2L874.9 904.6L872.3 908.9L865.4 904.7L864.3 899.6L864.4 892.7" fill="none" stroke="#000" stroke-width="4.17" stroke-linejoin="round" stroke-linecap="round"/>
<path d="M600.0 1204.0L601.7 1208.5L607.0 1212.1L608.6 1216.5L612.0 1223.0L614.5 1229.4L617.6 1233.5L618.9 1239.5L621.8 1243.8L624.3 1249.7L626.3 1254.1" fill="none" stroke="#000" stroke-width="4.17" stroke-linejoin="round" stroke-linecap="round"/>
<path d="M834.6 1041.9L839.3 1038.7L845.4 1035.4L849.7 1038.7L853.8 1041.2L849.6 1046.6L848.1 1051.4L841.7 1051.3L836.8 1050.3L834.6 1041.9" fill="none" stroke="#000" stroke-width="4.17" stroke-linejoin="round" stroke-linecap="round"/>
<path d="M898.6 1033.4L904.5 1034.2L907.5 1033.8L913.0 1036.5L916.7 1040.5L917.6 1046.1L913.5 1048.2L906.6 1050.5L902.9 1044.8L900.4 1039.9L898.6 1033.4" fill="none" stroke="#000" stroke-width="4.17" stroke-linejoin="round" stroke-linecap="round"/>
<path d="M430.9 172.7L439.3 169.4L446.8 174.5L451.1 178.5L453.2 182.8L451.6 187.1L447.5 191.9L438.9 191.9L432.4 186.6L437.2 179.8L430.9 172.7" fill="none" stroke="#000" stroke-width="4.17" stroke-linejoin="round" stroke-linecap="round"/>
<path d="M435.2 177.0L442.3 176.0L447.2 180.7L443.5 187.0L436.8 186.4L435.2 177.0" fill="none" stroke="#000" stroke-width="4.17" stroke-linejoin="round" stroke-linecap="round"/>
<path d="M417.0 190.8L423.1 193.6L424.9 200.2L427.8 204.6L430.5 209.8L431.0 214.6L426.6 216.3L422.2 212.3L419.4 207.7L416.0 199.2L417.0 190.8" fill="none" stroke="#000" stroke-width="4.17" stroke-linejoin="round" stroke-linecap="round"/>
<path d="M420.2 198.3L423.7 201.5L426.7 207.4L427.1 212.0" fill="none" stroke="#000" stroke-width="4.17" stroke-linejoin="round" stroke-linecap="round"/>
<path d="M444.8 216.4L449.7 215.5L455.6 214.7L463.4 216.1L468.9 217.8L469.4 223.9L461.8 223.1L457.3 222.5L452.0 222.0L445.2 222.8L444.8 216.4" fill="none" stroke="#000" stroke-width="4.17" stroke-linejoin="round" stroke-linecap="round"/>
<path d="M417.0 228.2L426.0 226.1L435.7 231.5L432.7 238.9L439.1 245.4L437.1 250.8L434.1 254.9L423.3 255.2L419.3 249.7L419.3 241.3L417.1 233.9L417.0 228.2" fill="none" stroke="#000" stroke-width="4.17" stroke-linejoin="round" stroke-linecap="round"/>
<path d="M439.4 227.1L444.8 226.4L450.2 225.7L459.5 229.4L467.0 229.9L469.6 237.8L464.5 244.9L460.2 247.5L455.4 251.7L447.4 249.7L444.9 242.2L448.7 234.1L441.3 233.5L439.4 227.1" fill="none" stroke="#000" stroke-width="4.17" stroke-linejoin="round" stroke-linecap="round"/>
<path d="M448.0 234.6L455.6 236.7L460.8 244.3L455.2 248.1L449.5 242.2L448.0 234.6" fill="none" stroke="#000" stroke-width="4.17" stroke-linejoin="round" stroke-linecap="round"/>
<path d="M422.4 234.6L429.8 237.6L427.7 244.9L422.3 245.6L422.1 239.4L422.4 234.6" fill="none" stroke="#000" stroke-width="4.17" stroke-linejoin="round" stroke-linecap="round"/>
<path d="M427.7 274.0L434.7 274.0L435.0 278.1L433.2 283.1L426.9 280.4L427.7 274.0" fill="none" stroke="#000" stroke-width="4.17" stroke-linejoin="round" stroke-linecap="round"/>
<path d="M444.8 293.2L451.4 291.4L455.5 298.5L452.5 303.8L447.6 302.8L444.8 293.2" fill="none" stroke="#000" stroke-width="4.17" stroke-linejoin="round" stroke-linecap="round"/>
<path d="M419.2 298.5L427.4 300.5L430.7 305.5L431.8 309.2L435.2 315.9L429.6 314.3L421.3 308.0L419.2 298.5" fill="none" stroke="#000" stroke-width="4.17" stroke-linejoin="round" stroke-linecap="round"/>
<path d="M424.5 330.5L428.9 328.7L432.2 335.3L426.1 336.5L424.5 330.5" fill="none" stroke="#000" stroke-width="4.17" stroke-linejoin="round" stroke-linecap="round"/>
<path d="M423.4 356.1L430.6 354.2L436.2 361.8L431.0 368.4L425.4 366.2L423.4 356.1" fill="none" stroke="#000" stroke-width="4.17" stroke-linejoin="round" stroke-linecap="round"/>
<path d="M422.4 372.8L428.7 372.4L432.2 377.6L425.4 378.7L422.4 372.8" fill="none" stroke="#000" stroke-width="4.17" stroke-linejoin="round" stroke-linecap="round"/>
<path d="M400.6 163.8L402.8 163.1L403.6 167.4L400.5 166.4L400.6 163.8" fill="none" stroke="#000" stroke-width="4.17" stroke-linejoin="round" stroke-linecap="round"/>
<path d="M399.3 179.1L401.7 178.3L403.2 181.7L400.5 183.4L399.3 179.1" fill="none" stroke="#000" stroke-width="4.17" stroke-linejoin="round" stroke-linecap="round"/>
<path d="M408.5 193.6L411.9 194.6L411.8 198.5L409.1 198.7L408.5 193.6" fill="none" stroke="#000" stroke-width="4.17" stroke-linejoin="round" stroke-linecap="round"/>
<path d="M404.2 335.9L408.9 335.4L408.5 338.7L403.9 339.1L404.2 335.9" fill="none" stroke="#000" stroke-width="4.17" stroke-linejoin="round" stroke-linecap="round"/>
<path d="M402.1 409.4L405.8 408.0L405.6 412.7L401.5 413.3L402.1 409.4" fill="none" stroke="#000" stroke-width="4.17" stroke-linejoin="round" stroke-linecap="round"/>
<path d="M458.6 152.5L462.5 157.8L461.0 166.4L464.0 171.8L458.6 178.2L463.7 183.4L459.1 189.0L467.3 196.3L461.0 199.2L456.1 202.1L462.6 205.9L457.8 214.4L463.2 216.2L467.4 218.6L464.1 226.6L467.6 235.5L466.5 239.7L465.7 247.4L469.5 255.4L467.9 261.0L468.2 265.6L467.3 273.0L469.4 276.0L464.3 285.5L467.2 295.1L463.3 297.7L459.1 303.3L452.5 309.0L448.2 316.9L446.8 320.8L446.9 326.5L447.4 332.8L450.1 336.3L450.4 342.3L452.4 349.1L453.8 355.3L454.0 362.8L457.4 367.5" fill="none" stroke="#000" stroke-width="4.17" stroke-linejoin="round" stroke-linecap="round"/>
<path d="M1047.4 328.4L1054.5 323.1L1063.1 320.2L1072.8 323.7L1076.7 324.5L1080.2 327.9L1083.0 336.5L1077.7 343.3L1068.5 345.7L1062.5 343.3L1052.3 340.6L1048.1 335.9L1047.4 328.4" fill="none" stroke="#000" stroke-width="4.17" stroke-linejoin="round" stroke-linecap="round"/>
<path d="M1050.6 330.5L1056.2 327.1L1065.2 326.1L1074.8 328.6L1078.5 333.6L1074.0 340.9L1064.1 340.1L1055.8 338.4L1050.6 330.5" fill="none" stroke="#000" stroke-width="4.17" stroke-linejoin="round" stroke-linecap="round"/>
<path d="M1054.9 332.7L1060.9 330.3L1068.3 329.4L1072.9 335.4L1068.1 336.9L1060.2 336.1L1054.9 332.7" fill="none" stroke="#000" stroke-width="4.17" stroke-linejoin="round" stroke-linecap="round"/>
<path d="M1059.1 320.9L1061.0 326.0L1062.6 332.0L1063.0 337.3L1061.0 343.8" fill="none" stroke="#000" stroke-width="4.17" stroke-linejoin="round" stroke-linecap="round"/>
<path d="M1067.7 322.0L1067.8 327.7L1070.5 334.3L1068.8 338.9L1067.4 344.5" fill="none" stroke="#000" stroke-width="4.17" stroke-linejoin="round" stroke-linecap="round"/>
<path d="M1075.1 325.2L1074.3 329.7L1074.2 337.0L1076.1 343.7" fill="none" stroke="#000" stroke-width="4.17" stroke-linejoin="round" stroke-linecap="round"/>
<path d="M1046.3 335.9L1050.8 336.7L1056.1 337.5L1062.6 337.2L1068.0 338.2L1071.8 337.5L1078.6 337.0L1084.6 339.1L1088.7 339.4" fill="none" stroke="#000" stroke-width="4.17" stroke-linejoin="round" stroke-linecap="round"/>
<path d="M1012.2 352.9L1017.7 357.4L1021.3 362.8L1024.3 365.7L1029.5 369.4L1033.2 374.9L1038.8 376.5L1043.1 378.9L1051.5 380.5" fill="none" stroke="#000" stroke-width="4.17" stroke-linejoin="round" stroke-linecap="round"/>
<path d="M1014.3 355.1L1019.8 360.6L1023.5 363.6L1026.7 369.5L1032.2 371.1L1034.8 376.8L1038.9 379.6L1045.4 381.7L1052.6 383.6" fill="none" stroke="#000" stroke-width="4.17" stroke-linejoin="round" stroke-linecap="round"/>
<path d="M1025.0 349.7L1029.5 352.9L1032.9 358.0L1035.2 361.1L1039.5 362.4L1043.8 366.7L1047.6 369.3L1054.5 369.7L1061.1 371.8" fill="none" stroke="#000" stroke-width="4.17" stroke-linejoin="round" stroke-linecap="round"/>
<path d="M1026.7 351.4L1030.8 356.0L1032.6 359.7L1038.2 360.9L1042.3 365.7L1044.8 369.0L1049.4 370.5L1056.1 372.7L1062.3 373.2" fill="none" stroke="#000" stroke-width="4.17" stroke-linejoin="round" stroke-linecap="round"/>
<path d="M1034.6 346.5L1038.6 348.9L1045.1 351.2L1048.4 352.4L1052.9 357.4L1059.8 358.7L1063.6 367.3" fill="none" stroke="#000" stroke-width="4.17" stroke-linejoin="round" stroke-linecap="round"/>
<path d="M1035.7 348.7L1039.3 351.6L1045.9 352.6L1049.0 354.3L1053.6 357.3L1059.0 361.9" fill="none" stroke="#000" stroke-width="4.17" stroke-linejoin="round" stroke-linecap="round"/>
<path d="M1005.8 374.2L1010.6 377.9L1016.6 380.7L1021.8 387.2L1027.3 390.3L1031.1 395.4L1033.0 401.8L1024.1 405.1L1020.7 400.5L1014.4 395.5L1010.3 392.0L1008.5 386.3L1005.9 380.7L1005.8 374.2" fill="none" stroke="#000" stroke-width="4.17" stroke-linejoin="round" stroke-linecap="round"/>
<path d="M1008.0 377.4L1014.4 380.9L1019.5 384.3L1022.8 388.6L1027.3 392.3L1029.1 399.4L1022.7 399.1L1019.7 395.7L1015.2 392.4L1011.0 388.3L1010.0 382.2L1008.0 377.4" fill="none" stroke="#000" stroke-width="4.17" stroke-linejoin="round" stroke-linecap="round"/>
<path d="M1010.1 380.6L1015.7 383.6L1020.8 388.1L1022.6 392.7L1025.2 395.8L1021.1 394.3L1016.9 393.2L1013.0 386.5L1010.1 380.6" fill="none" stroke="#000" stroke-width="4.17" stroke-linejoin="round" stroke-linecap="round"/>
<path d="M990.9 374.2L995.1 377.3L999.7 380.1L1006.9 386.6" fill="none" stroke="#000" stroke-width="4.17" stroke-linejoin="round" stroke-linecap="round"/>
<path d="M1103.9 153.5L1109.1 160.9L1116.2 156.5L1117.4 162.4L1119.8 169.4L1117.3 174.0L1116.7 178.6L1120.8 187.4L1127.3 184.6L1132.2 177.9L1135.5 176.1L1143.0 181.5L1141.1 186.5L1138.2 190.6L1133.7 193.8L1130.0 197.1L1124.4 203.1L1122.0 206.3L1128.3 214.1L1132.3 212.2L1138.2 208.9" fill="none" stroke="#000" stroke-width="4.17" stroke-linejoin="round" stroke-linecap="round"/>
<path d="M1114.6 153.5L1120.3 155.7L1123.5 160.9L1125.6 165.4L1135.0 168.9L1139.6 163.1L1146.4 171.6" fill="none" stroke="#000" stroke-width="4.17" stroke-linejoin="round" stroke-linecap="round"/>
<path d="M1118.8 200.4L1127.3 202.9L1129.0 198.9L1134.4 197.1L1142.5 195.6L1144.8 188.1" fill="none" stroke="#000" stroke-width="4.17" stroke-linejoin="round" stroke-linecap="round"/>
<path d="M1080.5 174.9L1086.3 175.8L1091.0 175.0L1095.8 177.6L1100.7 178.5L1105.4 179.9L1115.9 180.1" fill="none" stroke="#000" stroke-width="4.17" stroke-linejoin="round" stroke-linecap="round"/>
<path d="M1093.3 181.3L1090.4 186.8L1088.7 193.2L1085.5 198.4L1082.7 204.9L1076.9 209.8L1070.7 214.5L1066.4 215.0L1061.0 218.4" fill="none" stroke="#000" stroke-width="4.17" stroke-linejoin="round" stroke-linecap="round"/>
<path d="M712.0 1000.8L717.9 1004.7L721.6 1010.0L726.9 1014.1L730.8 1019.2L733.3 1023.4L737.0 1026.8L741.2 1030.8L744.0 1032.5L747.5 1035.7L753.5 1040.7L756.5 1043.0L762.0 1046.5L768.4 1049.6L775.3 1051.9L780.9 1052.9L785.5 1058.6" fill="none" stroke="#000" stroke-width="4.17" stroke-linejoin="round" stroke-linecap="round"/>
<path d="M716.3 997.6L720.9 1000.3L724.1 1004.8L728.2 1008.4L730.3 1010.7L733.8 1016.6L738.9 1018.3L742.7 1021.7L746.3 1025.8L749.7 1029.4L757.4 1033.2L762.8 1035.0L767.2 1039.2L773.9 1040.2" fill="none" stroke="#000" stroke-width="4.17" stroke-linejoin="round" stroke-linecap="round"/>
<path d="M758.9 1027.4L765.3 1022.4L775.0 1024.6L778.3 1028.0L781.3 1030.3L785.9 1033.2L790.4 1038.7L797.4 1045.0L790.4 1047.8L781.8 1043.8L778.1 1041.3L772.8 1037.3L766.3 1034.4L758.9 1027.4" fill="none" stroke="#000" stroke-width="4.17" stroke-linejoin="round" stroke-linecap="round"/>
<path d="M874.1 1029.6L876.2 1024.5L881.3 1027.4L885.0 1022.2L889.1 1024.7L893.1 1018.7L895.8 1024.4L900.4 1020.9L902.6 1025.1L904.8 1030.5L903.5 1035.8L905.8 1039.8L902.7 1044.6L902.9 1051.3L895.5 1049.0L892.8 1053.9L887.0 1049.4L884.4 1049.4L882.6 1051.7L876.3 1049.7L871.7 1047.1L871.0 1042.4L866.9 1038.8L872.5 1032.5L874.1 1029.6" fill="none" stroke="#000" stroke-width="4.17" stroke-linejoin="round" stroke-linecap="round"/>
<path d="M878.3 1031.7L884.7 1029.8L890.6 1032.8L893.8 1038.8L888.9 1044.3L883.2 1042.6L877.3 1038.0L878.3 1031.7" fill="none" stroke="#000" stroke-width="4.17" stroke-linejoin="round" stroke-linecap="round"/>
<path d="M890.1 1092.5L894.2 1092.5L900.5 1096.8L907.1 1100.9L910.4 1108.0L907.0 1106.5L900.3 1103.2L894.7 1098.6L890.1 1092.5" fill="none" stroke="#000" stroke-width="4.17" stroke-linejoin="round" stroke-linecap="round"/>
<path d="M892.2 1094.0L899.2 1098.4L903.1 1103.7L908.0 1108.4" fill="none" stroke="#000" stroke-width="4.17" stroke-linejoin="round" stroke-linecap="round"/>
<path d="M884.7 1110.6L894.3 1107.7L898.3 1111.2L902.4 1114.5L910.6 1117.3L913.3 1121.8L917.9 1125.5L926.1 1132.3L934.4 1131.4" fill="none" stroke="#000" stroke-width="4.17" stroke-linejoin="round" stroke-linecap="round"/>
<path d="M891.1 1117.0L897.7 1121.5L903.8 1128.0L912.4 1129.7L915.8 1135.2" fill="none" stroke="#000" stroke-width="4.17" stroke-linejoin="round" stroke-linecap="round"/>
<path d="M876.2 1142.6L879.3 1137.6L883.8 1139.4L886.7 1137.3L890.9 1141.0L898.0 1143.7L894.9 1149.1L898.1 1154.5L892.7 1152.3L890.1 1156.5L883.7 1153.5L880.6 1153.1L881.6 1149.6L876.2 1142.6" fill="none" stroke="#000" stroke-width="4.17" stroke-linejoin="round" stroke-linecap="round"/>
<path d="M810.1 1042.4L817.6 1039.5L821.8 1045.7L821.1 1051.1L823.2 1056.6L818.0 1064.2L811.3 1060.4L806.9 1052.5L808.7 1048.8L810.1 1042.4" fill="none" stroke="#000" stroke-width="4.17" stroke-linejoin="round" stroke-linecap="round"/>
<path d="M811.8 1044.9L817.1 1044.2L819.7 1049.8L821.8 1057.4L817.2 1060.7L813.5 1058.4L810.2 1051.7L811.8 1044.9" fill="none" stroke="#000" stroke-width="4.17" stroke-linejoin="round" stroke-linecap="round"/>
<path d="M861.3 1022.1L867.7 1022.6L869.4 1032.5L862.7 1032.6L861.1 1027.5L861.3 1022.1" fill="none" stroke="#000" stroke-width="4.17" stroke-linejoin="round" stroke-linecap="round"/>
<path d="M806.9 1127.7L811.2 1125.2L815.4 1120.7L821.5 1124.4L826.7 1125.8L831.4 1126.8L838.3 1129.9L840.5 1136.0L834.6 1136.5L828.6 1137.2L823.1 1140.3L818.9 1143.2L812.6 1145.5L808.6 1137.0L808.4 1133.0L806.9 1127.7" fill="none" stroke="#000" stroke-width="4.17" stroke-linejoin="round" stroke-linecap="round"/>
<path d="M801.6 1128.7L809.9 1127.0L819.6 1129.1" fill="none" stroke="#000" stroke-width="4.17" stroke-linejoin="round" stroke-linecap="round"/>
<path d="M830.3 1048.8L837.8 1050.8L841.7 1047.4L843.8 1042.5L850.9 1040.8L853.9 1047.3L849.4 1053.4L839.3 1052.5L832.3 1055.2L830.3 1048.8" fill="none" stroke="#000" stroke-width="4.17" stroke-linejoin="round" stroke-linecap="round"/>
<path d="M816.5 1004.0L825.0 1007.5L830.5 1005.0L838.4 1002.7L841.9 1001.5L847.5 999.4L854.8 1003.3L853.9 1012.4L843.0 1013.0L837.8 1017.5L829.9 1011.9L821.8 1013.1L816.5 1004.0" fill="none" stroke="#000" stroke-width="4.17" stroke-linejoin="round" stroke-linecap="round"/>
<path d="M857.0 940.0L859.6 946.7L861.5 952.8L864.2 957.1L865.0 963.7L865.7 969.1L867.3 975.0L870.3 979.3L875.2 982.1L875.6 987.8L877.8 994.8L877.3 1002.0L875.7 1006.7L867.3 1010.0L860.6 1004.9" fill="none" stroke="#000" stroke-width="4.17" stroke-linejoin="round" stroke-linecap="round"/>
<path d="M808.0 1027.4L812.4 1025.4L815.2 1032.4L812.0 1035.0L809.4 1032.7L808.0 1027.4" fill="none" stroke="#000" stroke-width="4.17" stroke-linejoin="round" stroke-linecap="round"/>
<path d="M793.0 1059.4L798.3 1058.1L802.8 1062.5L803.3 1068.8L800.5 1072.3L795.3 1068.8L793.0 1059.4" fill="none" stroke="#000" stroke-width="4.17" stroke-linejoin="round" stroke-linecap="round"/>
<path d="M767.2 230.5L770.2 234.2L775.4 237.5L778.5 242.7L779.2 248.4L782.3 254.3L786.4 260.1L787.1 264.1L788.9 269.4L788.2 273.8L791.5 278.4L791.5 284.5L791.1 289.1" fill="none" stroke="#000" stroke-width="4.17" stroke-linejoin="round" stroke-linecap="round"/>
<path d="M771.0 229.2L773.6 234.8L778.9 240.5L782.9 245.8L785.4 251.3L787.4 258.0L790.6 262.4L792.6 267.7L793.9 275.4L793.1 279.6L793.8 286.1" fill="none" stroke="#000" stroke-width="4.17" stroke-linejoin="round" stroke-linecap="round"/>
<path d="M783.2 255.1L789.9 252.7L792.4 259.0L789.3 265.2L783.5 262.8L783.2 255.1" fill="none" stroke="#000" stroke-width="4.17" stroke-linejoin="round" stroke-linecap="round"/>
<path d="M781.4 268.0L787.9 265.5L791.7 271.6L788.4 276.3L781.6 275.9L781.4 268.0" fill="none" stroke="#000" stroke-width="4.17" stroke-linejoin="round" stroke-linecap="round"/>
<path d="M784.8 282.2L792.0 282.2L795.1 287.9L790.8 294.8L784.7 291.0L784.8 282.2" fill="none" stroke="#000" stroke-width="4.17" stroke-linejoin="round" stroke-linecap="round"/>
<path d="M795.6 310.7L801.9 312.9L802.2 316.5L798.9 319.6L796.1 316.1L795.6 310.7" fill="none" stroke="#000" stroke-width="4.17" stroke-linejoin="round" stroke-linecap="round"/>
<path d="M802.1 323.7L806.4 324.9L809.2 330.7L804.7 329.9L802.1 323.7" fill="none" stroke="#000" stroke-width="4.17" stroke-linejoin="round" stroke-linecap="round"/>
<path d="M818.9 313.3L829.0 311.5L833.0 317.2L825.5 324.5L821.0 322.9L818.9 313.3" fill="none" stroke="#000" stroke-width="4.17" stroke-linejoin="round" stroke-linecap="round"/>
<path d="M821.0 315.9L825.8 314.9L829.5 318.7L824.3 323.4L821.0 315.9" fill="none" stroke="#000" stroke-width="4.17" stroke-linejoin="round" stroke-linecap="round"/>
<path d="M748.5 240.8L752.4 241.2L754.1 247.8L753.6 254.1L750.9 255.8L749.2 248.1L748.5 240.8" fill="none" stroke="#000" stroke-width="4.17" stroke-linejoin="round" stroke-linecap="round"/>
<path d="M723.1 190.3L730.7 195.8L737.3 200.8L730.1 204.5L723.9 195.8L723.1 190.3" fill="none" stroke="#000" stroke-width="4.17" stroke-linejoin="round" stroke-linecap="round"/>
<path d="M712.8 181.3L716.2 183.8L720.9 186.6L725.9 192.5L728.1 195.6L726.5 199.9L719.6 195.8L714.5 191.4L714.0 187.7L712.8 181.3" fill="none" stroke="#000" stroke-width="4.17" stroke-linejoin="round" stroke-linecap="round"/>
<path d="M583.0 655.0L584.7 661.4L584.0 665.2L585.6 670.1L585.5 677.1L587.1 682.6L589.5 687.3L589.4 692.3L589.8 698.7L590.2 705.7L590.9 713.5L590.2 719.3L588.1 727.5L588.6 732.3L590.6 739.8L593.9 746.0L598.6 751.4L601.8 756.0L604.8 761.8L604.9 764.8L603.9 771.6L603.2 778.3L601.3 784.6L603.3 792.8L605.3 795.3L606.6 801.0L609.3 803.8L615.3 809.0L619.9 814.3" fill="none" stroke="#000" stroke-width="4.17" stroke-linejoin="round" stroke-linecap="round"/>
<path d="M575.0 707.0L583.5 706.9L587.2 712.3L584.2 721.2L578.1 722.2L576.2 717.2L575.6 712.8L575.0 707.0" fill="none" stroke="#000" stroke-width="4.17" stroke-linejoin="round" stroke-linecap="round"/>
<path d="M14.2 1099.3L40.9 1119.3M35.8 1115.6L33.5 1122.1M18.5 1129.4L45.1 1149.5M40.1 1145.7L37.7 1152.3M22.9 1159.3L48.5 1180.7M43.7 1176.7L41.0 1183.1M27.2 1189.2L54.1 1208.9M49.0 1205.2L46.8 1211.8M31.5 1219.0L63.3 1229.1M57.3 1227.2L57.3 1234.2M35.8 1248.7L67.8 1257.8M61.8 1256.1L62.0 1263.1M40.0 1278.4L72.6 1285.5M66.4 1284.2L67.1 1291.1M26.8 974.0L49.3 998.6M45.1 994.0L41.6 1000.0M31.2 1004.4L54.1 1028.6M49.8 1024.0L46.4 1030.1M35.6 1034.6L62.1 1054.9M57.1 1051.1L54.7 1057.7M40.0 1064.8L70.1 1079.1M64.4 1076.4L63.5 1083.3M44.3 1095.0L69.6 1116.7M64.8 1112.6L62.1 1119.0M48.6 1125.0L75.0 1145.3M70.0 1141.5L67.6 1148.1M52.8 1155.0L82.5 1170.2M77.0 1167.3L75.8 1174.2M57.1 1184.9L87.3 1198.8M81.7 1196.2L80.8 1203.2M61.3 1214.7L92.7 1225.7M86.8 1223.7L86.6 1230.6M65.4 1244.5L98.7 1247.0M92.4 1246.5L94.0 1253.3M17.2 692.7L47.8 679.6M42.1 682.0L46.6 687.3M26.3 754.8L55.0 737.8M49.6 741.0L54.8 745.7M30.8 785.7L59.8 769.2M54.3 772.3L59.5 777.0M39.8 847.3L53.7 877.6M51.1 871.9L45.9 876.6M44.2 878.0L76.2 887.3M70.2 885.6L70.4 892.5M48.6 908.6L72.7 931.7M68.2 927.4L65.1 933.6M53.0 939.2L73.7 965.2M69.8 960.4L65.9 966.1M57.3 969.6L79.6 994.4M75.5 989.7L71.9 995.8M61.7 1000.0L85.7 1023.1M81.2 1018.7L78.1 1025.0M65.9 1030.3L91.5 1051.7M86.7 1047.7L84.0 1054.2M70.2 1060.5L96.1 1081.5M91.3 1077.5L88.7 1084.0M74.4 1090.7L99.0 1113.2M94.4 1109.0L91.4 1115.3M78.6 1120.8L103.2 1143.3M98.6 1139.1L95.6 1145.4M82.8 1150.8L110.8 1168.8M105.6 1165.4L103.7 1172.2M86.9 1180.7L115.7 1197.6M110.3 1194.4L108.7 1201.2M91.1 1210.6L120.5 1226.1M115.0 1223.2L113.8 1230.1M95.1 1240.4L128.1 1245.3M121.9 1244.4L123.0 1251.3M25.9 531.2L57.6 520.7M51.6 522.7L55.7 528.4M30.5 562.7L61.5 550.3M55.7 552.7L60.1 558.1M35.1 594.2L63.2 576.3M57.9 579.6L63.3 584.1M39.6 625.6L68.9 609.7M63.5 612.7L68.5 617.5M44.2 656.9L75.8 646.3M69.9 648.3L73.9 654.0M48.7 688.1L79.2 674.7M73.4 677.2L78.0 682.4M53.1 719.2L82.6 703.7M77.1 706.6L82.0 711.5M57.6 750.2m-5.0 0a5.0 5.0 0 1 0 10.0 0a5.0 5.0 0 1 0 -10.0 0M62.0 781.2L89.8 762.8M84.6 766.3L90.0 770.7M66.4 812.1m-5.0 0a5.0 5.0 0 1 0 10.0 0a5.0 5.0 0 1 0 -10.0 0M70.7 842.9m-5.0 0a5.0 5.0 0 1 0 10.0 0a5.0 5.0 0 1 0 -10.0 0M75.1 873.6m-5.0 0a5.0 5.0 0 1 0 10.0 0a5.0 5.0 0 1 0 -10.0 0M79.4 904.2L94.3 934.1M91.5 928.5L86.5 933.3M83.7 934.8L99.1 964.4M96.2 958.8L91.2 963.8M87.9 965.3L111.5 988.9M107.1 984.5L103.8 990.6M92.1 995.7L113.0 1021.7M109.0 1016.9L105.1 1022.7M96.3 1026.1L117.7 1051.7M113.7 1046.9L109.9 1052.7M100.5 1056.3L125.1 1078.8M120.4 1074.6L117.5 1080.9M104.6 1086.5L126.6 1111.6M122.5 1106.9L118.8 1112.8M108.7 1116.6L129.8 1142.5M125.8 1137.6L122.0 1143.4M112.8 1146.7L138.3 1168.2M133.5 1164.2L130.8 1170.6M116.9 1176.6L142.3 1198.2M137.5 1194.1L134.8 1200.6M120.9 1206.6L150.4 1222.1M144.8 1219.2L143.6 1226.0M124.9 1236.4m-5.0 0a5.0 5.0 0 1 0 10.0 0a5.0 5.0 0 1 0 -10.0 0M21.1 270.7L52.1 258.6M46.3 260.8L50.7 266.3M25.8 303.0L59.0 299.8M52.7 300.4L55.5 306.8M30.4 335.2L63.8 334.8M57.5 334.8L59.7 341.5M35.1 367.3L68.0 372.4M61.9 371.4L62.9 378.3M39.7 399.3L72.7 394.5M66.5 395.4L69.5 401.7M44.3 431.3L77.2 425.9M71.0 426.9L74.2 433.2M48.9 463.1L81.7 457.6M75.6 458.6L78.7 464.9M53.4 494.9L85.9 487.4M79.8 488.8L83.3 494.8M57.9 526.5L89.9 517.2M83.9 518.9L87.8 524.7M62.4 558.1L92.4 543.6M86.8 546.3L91.6 551.4M66.9 589.6L91.2 566.8M86.7 571.1L92.7 574.5M71.3 621.0L99.8 603.6M94.4 606.9L99.7 611.4M75.8 652.3L105.9 638.1M100.3 640.8L105.0 645.9M80.2 683.6L111.4 671.8M105.5 674.0L109.8 679.6M84.5 714.7L112.4 696.5M107.2 699.9L112.6 704.4M88.9 745.8L116.2 726.7M111.1 730.3L116.6 734.6M93.2 776.8L121.3 758.9M116.0 762.3L121.4 766.8M97.5 807.7m-5.0 0a5.0 5.0 0 1 0 10.0 0a5.0 5.0 0 1 0 -10.0 0M101.7 838.5m-5.0 0a5.0 5.0 0 1 0 10.0 0a5.0 5.0 0 1 0 -10.0 0M106.0 869.3m-5.0 0a5.0 5.0 0 1 0 10.0 0a5.0 5.0 0 1 0 -10.0 0M110.2 900.0m-5.0 0a5.0 5.0 0 1 0 10.0 0a5.0 5.0 0 1 0 -10.0 0M114.4 930.6L126.9 961.4M124.6 955.6L119.2 960.1M118.5 961.1L133.8 990.7M131.0 985.1L126.0 990.0M122.6 991.5L146.2 1015.1M141.8 1010.7L138.5 1016.9M126.7 1021.9L148.3 1047.3M144.2 1042.6L140.5 1048.5M130.8 1052.2L153.4 1076.7M149.1 1072.1L145.6 1078.2M134.8 1082.4L157.9 1106.5M153.6 1102.0L150.2 1108.1M138.9 1112.6m-5.0 0a5.0 5.0 0 1 0 10.0 0a5.0 5.0 0 1 0 -10.0 0M142.8 1142.7m-5.0 0a5.0 5.0 0 1 0 10.0 0a5.0 5.0 0 1 0 -10.0 0M146.8 1172.7m-5.0 0a5.0 5.0 0 1 0 10.0 0a5.0 5.0 0 1 0 -10.0 0M150.7 1202.6m-5.0 0a5.0 5.0 0 1 0 10.0 0a5.0 5.0 0 1 0 -10.0 0M154.6 1232.5m-5.0 0a5.0 5.0 0 1 0 10.0 0a5.0 5.0 0 1 0 -10.0 0M158.5 1262.3m-5.0 0a5.0 5.0 0 1 0 10.0 0a5.0 5.0 0 1 0 -10.0 0M40.2 168.4L58.7 140.7M55.2 145.9L61.9 147.8M44.8 201.0L68.4 177.4M64.0 181.9L70.2 185.1M49.4 233.5L76.3 213.7M71.2 217.4L76.9 221.6M54.0 265.9L79.6 244.5M74.8 248.5L80.7 252.3M58.6 298.3L90.7 289.1M84.7 290.8L88.5 296.6M63.2 330.5L96.2 325.8M90.0 326.7L93.0 333.0M67.7 362.6L101.0 363.7M94.8 363.5L96.6 370.2M72.2 394.7L105.1 389.6M99.0 390.5L102.0 396.8M76.7 426.7L109.6 421.2M103.4 422.3L106.5 428.5M81.1 458.5L113.9 452.4M107.8 453.5L111.0 459.7M85.6 490.3L118.6 485.9M112.4 486.7L115.4 493.1M90.0 522.0L122.7 515.5M116.5 516.7L119.9 522.8M94.4 553.6L123.9 538.2M118.4 541.1L123.3 546.0M98.7 585.1L127.0 567.5M121.7 570.8L127.0 575.4M103.1 616.6L126.4 592.8M122.0 597.2L128.3 600.4M107.4 647.9L138.9 636.9M133.0 639.0L137.1 644.6M111.7 679.2L143.7 669.9M137.7 671.6L141.5 677.4M115.9 710.4L144.0 692.4M138.7 695.7L144.1 700.2M120.2 741.5L146.2 720.7M141.3 724.6L147.1 728.5M124.4 772.5L130.0 739.6M128.9 745.8L135.9 744.9M128.6 803.4m-5.0 0a5.0 5.0 0 1 0 10.0 0a5.0 5.0 0 1 0 -10.0 0M132.7 834.3m-5.0 0a5.0 5.0 0 1 0 10.0 0a5.0 5.0 0 1 0 -10.0 0M136.9 865.1L153.6 893.9M150.4 888.5L145.7 893.7M141.0 895.8L141.0 929.1M141.0 922.9L134.3 925.0M145.1 926.4L151.7 959.1M150.5 953.0L144.4 956.3M149.1 957.0L156.5 989.5M155.1 983.4L149.1 986.9M153.2 987.4L169.7 1016.4M166.6 1011.0L161.8 1016.1M157.2 1017.9L174.5 1046.3M171.2 1041.0L166.6 1046.2M161.1 1048.2L181.5 1074.6M177.6 1069.6L173.6 1075.4M165.1 1078.4L187.1 1103.5M183.0 1098.8L179.3 1104.7M169.0 1108.6m-5.0 0a5.0 5.0 0 1 0 10.0 0a5.0 5.0 0 1 0 -10.0 0M172.9 1138.7m-5.0 0a5.0 5.0 0 1 0 10.0 0a5.0 5.0 0 1 0 -10.0 0M176.8 1168.8m-5.0 0a5.0 5.0 0 1 0 10.0 0a5.0 5.0 0 1 0 -10.0 0M180.6 1198.7m-5.0 0a5.0 5.0 0 1 0 10.0 0a5.0 5.0 0 1 0 -10.0 0M184.4 1228.6m-5.0 0a5.0 5.0 0 1 0 10.0 0a5.0 5.0 0 1 0 -10.0 0M188.2 1258.5m-5.0 0a5.0 5.0 0 1 0 10.0 0a5.0 5.0 0 1 0 -10.0 0M73.5 163.7L93.5 137.0M89.8 142.0L96.3 144.4M78.0 196.3L102.6 173.8M98.0 178.0L104.0 181.5M82.5 228.9L101.7 201.6M98.1 206.7L104.8 208.9M87.0 261.3L106.2 234.1M102.6 239.2L109.3 241.3M91.5 293.7L117.4 272.7M112.5 276.6L118.3 280.5M95.9 325.9L127.4 315.1M121.5 317.1L125.7 322.7M100.3 358.1L132.8 350.6M126.7 352.0L130.2 358.0M104.7 390.2L136.7 380.9M130.7 382.6L134.6 388.4M109.1 422.2L141.9 416.0M135.7 417.2L139.0 423.3M113.4 454.1L145.6 445.1M139.5 446.8L143.3 452.7M117.8 485.9L150.1 477.8M144.0 479.3L147.7 485.3M122.1 517.6L154.6 510.3M148.5 511.7L152.0 517.7M126.4 549.2L156.5 534.9M150.8 537.6L155.6 542.7M130.6 580.8L158.2 562.1M153.1 565.6L158.5 570.0M134.8 612.2L164.6 597.3M159.0 600.1L163.9 605.1M139.1 643.6L172.2 639.7M165.9 640.5L168.8 646.8M143.2 674.9L176.6 674.9M170.3 674.9L172.4 681.6M147.4 706.1L172.4 684.1M167.7 688.2L173.7 691.9M151.5 737.3m-5.0 0a5.0 5.0 0 1 0 10.0 0a5.0 5.0 0 1 0 -10.0 0M155.6 768.3m-5.0 0a5.0 5.0 0 1 0 10.0 0a5.0 5.0 0 1 0 -10.0 0M159.7 799.3m-5.0 0a5.0 5.0 0 1 0 10.0 0a5.0 5.0 0 1 0 -10.0 0M163.8 830.2m-5.0 0a5.0 5.0 0 1 0 10.0 0a5.0 5.0 0 1 0 -10.0 0M167.8 861.0m-5.0 0a5.0 5.0 0 1 0 10.0 0a5.0 5.0 0 1 0 -10.0 0M171.8 891.7L166.3 924.6M167.3 918.4L160.4 919.4M175.8 922.4L170.8 955.3M171.7 949.1L164.8 950.2M179.8 953.0L179.8 986.3M179.8 980.0L173.1 982.1M183.7 983.5L191.2 1015.9M189.8 1009.9L183.8 1013.4M187.6 1013.9L196.9 1045.9M195.2 1039.9L189.3 1043.8M191.5 1044.3m-5.0 0a5.0 5.0 0 1 0 10.0 0a5.0 5.0 0 1 0 -10.0 0M195.4 1074.5m-5.0 0a5.0 5.0 0 1 0 10.0 0a5.0 5.0 0 1 0 -10.0 0M199.2 1104.8m-5.0 0a5.0 5.0 0 1 0 10.0 0a5.0 5.0 0 1 0 -10.0 0M203.0 1134.9m-5.0 0a5.0 5.0 0 1 0 10.0 0a5.0 5.0 0 1 0 -10.0 0M206.8 1165.0m-5.0 0a5.0 5.0 0 1 0 10.0 0a5.0 5.0 0 1 0 -10.0 0M210.5 1195.0m-5.0 0a5.0 5.0 0 1 0 10.0 0a5.0 5.0 0 1 0 -10.0 0M214.2 1224.9m-5.0 0a5.0 5.0 0 1 0 10.0 0a5.0 5.0 0 1 0 -10.0 0M217.9 1254.8m-5.0 0a5.0 5.0 0 1 0 10.0 0a5.0 5.0 0 1 0 -10.0 0M106.9 159.1L125.5 131.5M122.0 136.7L128.7 138.7M111.3 191.8L127.1 162.4M124.1 167.9L131.0 169.2M115.6 224.3L127.3 193.1M125.2 199.0L132.1 199.4M120.0 256.8L135.4 227.2M132.5 232.8L139.4 234.0M124.4 289.2L145.0 263.0M141.2 267.9L147.7 270.5M128.7 321.5L156.3 302.8M151.1 306.3L156.6 310.6M133.0 353.7L165.1 344.8M159.1 346.4L162.9 352.3M137.3 385.8L160.3 361.7M156.0 366.2L162.2 369.3M141.5 417.8L173.8 409.4M167.8 411.0L171.4 416.9M145.8 449.7L176.1 435.8M170.4 438.4L175.1 443.6M150.0 481.5L179.1 465.3M173.6 468.3L178.7 473.1M154.2 513.3L185.1 500.7M179.3 503.1L183.7 508.5M158.4 544.9L188.5 530.6M182.8 533.3L187.6 538.4M162.5 576.5L193.7 564.8M187.9 567.0L192.2 572.5M166.6 608.0L196.8 593.8M191.1 596.5L195.9 601.7M170.7 639.4L203.8 635.5M197.6 636.3L200.5 642.6M174.8 670.7L207.6 676.9M201.4 675.7L202.3 682.7M178.9 702.0L193.5 731.9M190.8 726.3L185.7 731.1M182.9 733.1L189.4 765.8M188.1 759.7L182.0 763.0M186.9 764.2L179.8 796.8M181.1 790.7L174.2 791.3M190.9 795.2m-5.0 0a5.0 5.0 0 1 0 10.0 0a5.0 5.0 0 1 0 -10.0 0M194.9 826.1m-5.0 0a5.0 5.0 0 1 0 10.0 0a5.0 5.0 0 1 0 -10.0 0M198.8 857.0m-5.0 0a5.0 5.0 0 1 0 10.0 0a5.0 5.0 0 1 0 -10.0 0M202.7 887.7L195.7 920.3M197.0 914.2L190.0 914.8M206.6 918.4L205.6 951.7M205.8 945.5L199.0 947.4M210.5 949.0L214.6 982.1M213.8 975.9L207.5 978.8M214.3 979.6L209.2 1012.5M210.2 1006.3L203.2 1007.4M218.1 1010.0L212.2 1042.9M213.3 1036.7L206.4 1037.6M221.9 1040.4L210.5 1071.7M212.6 1065.9L205.7 1065.6M225.7 1070.7m-5.0 0a5.0 5.0 0 1 0 10.0 0a5.0 5.0 0 1 0 -10.0 0M229.4 1101.0m-5.0 0a5.0 5.0 0 1 0 10.0 0a5.0 5.0 0 1 0 -10.0 0M233.1 1131.2m-5.0 0a5.0 5.0 0 1 0 10.0 0a5.0 5.0 0 1 0 -10.0 0M236.8 1161.3m-5.0 0a5.0 5.0 0 1 0 10.0 0a5.0 5.0 0 1 0 -10.0 0M240.4 1191.3m-5.0 0a5.0 5.0 0 1 0 10.0 0a5.0 5.0 0 1 0 -10.0 0M244.1 1221.3m-5.0 0a5.0 5.0 0 1 0 10.0 0a5.0 5.0 0 1 0 -10.0 0M247.7 1251.1m-5.0 0a5.0 5.0 0 1 0 10.0 0a5.0 5.0 0 1 0 -10.0 0M144.5 187.3L156.2 156.1M154.0 162.0L161.0 162.3M148.8 219.9L156.7 187.5M155.2 193.6L162.2 193.2M153.0 252.4L162.6 220.5M160.8 226.5L167.8 226.4M157.3 284.8L173.8 255.9M170.7 261.3L177.5 262.8M161.5 317.1L184.5 293.1M180.2 297.6L186.5 300.7M165.7 349.3L195.5 334.4M189.9 337.2L194.7 342.3M169.8 381.5L198.0 363.7M192.8 367.0L198.1 371.6M174.0 413.5L202.0 395.5M196.8 398.9L202.1 403.3M178.1 445.5m-5.0 0a5.0 5.0 0 1 0 10.0 0a5.0 5.0 0 1 0 -10.0 0M182.2 477.3L207.4 455.5M202.7 459.6L208.6 463.3M186.3 509.1L212.3 488.3M207.5 492.2L213.2 496.1M190.4 540.8L219.4 524.4M214.0 527.5L219.1 532.2M194.4 572.4L226.5 563.2M220.4 564.9L224.3 570.7M198.4 603.9L230.7 595.5M224.7 597.1L228.3 603.0M202.4 635.3L235.3 629.8M229.2 630.8L232.3 637.1M206.4 666.7L238.2 676.9M232.2 675.0L232.1 682.0M210.4 697.9L240.4 712.5M234.7 709.8L233.7 716.7M214.3 729.1L247.6 727.7M241.4 727.9L243.7 734.5M218.2 760.2L251.1 754.8M244.9 755.8L248.1 762.1M222.1 791.3m-5.0 0a5.0 5.0 0 1 0 10.0 0a5.0 5.0 0 1 0 -10.0 0M226.0 822.2m-5.0 0a5.0 5.0 0 1 0 10.0 0a5.0 5.0 0 1 0 -10.0 0M229.8 853.1m-5.0 0a5.0 5.0 0 1 0 10.0 0a5.0 5.0 0 1 0 -10.0 0M233.6 883.9L243.6 915.7M241.7 909.7L236.0 913.7M237.4 914.6L238.3 947.9M238.2 941.7L231.5 943.9M241.2 945.2L232.9 977.5M234.4 971.5L227.5 971.8M244.9 975.8L239.3 1008.6M240.3 1002.5L233.4 1003.4M248.6 1006.3L239.6 1038.4M241.3 1032.4L234.3 1032.6M252.3 1036.7m-5.0 0a5.0 5.0 0 1 0 10.0 0a5.0 5.0 0 1 0 -10.0 0M256.0 1067.0L250.7 1100.0M251.7 1093.8L244.8 1094.8M259.6 1097.3m-5.0 0a5.0 5.0 0 1 0 10.0 0a5.0 5.0 0 1 0 -10.0 0M263.2 1127.5m-5.0 0a5.0 5.0 0 1 0 10.0 0a5.0 5.0 0 1 0 -10.0 0M266.8 1157.6m-5.0 0a5.0 5.0 0 1 0 10.0 0a5.0 5.0 0 1 0 -10.0 0M270.4 1187.7m-5.0 0a5.0 5.0 0 1 0 10.0 0a5.0 5.0 0 1 0 -10.0 0M273.9 1217.7m-5.0 0a5.0 5.0 0 1 0 10.0 0a5.0 5.0 0 1 0 -10.0 0M277.5 1247.6m-5.0 0a5.0 5.0 0 1 0 10.0 0a5.0 5.0 0 1 0 -10.0 0M177.8 183.0L180.4 149.8M179.9 156.0L186.7 154.5M181.9 215.6L185.0 182.4M184.5 188.7L191.3 187.2M186.1 248.1L191.4 215.2M190.4 221.4L197.3 220.4M190.2 280.6L202.0 249.4M199.8 255.2L206.8 255.7M194.3 312.9L213.8 285.8M210.1 290.9L216.7 293.1M198.4 345.1L230.9 337.8M224.8 339.2L228.3 345.2M202.4 377.3L224.7 352.5M220.5 357.1L226.9 360.0M206.5 409.3L234.0 390.5M228.8 394.0L234.3 398.4M210.5 441.3L230.8 414.9M227.0 419.8L233.5 422.2M214.5 473.2L244.3 458.3M238.7 461.1L243.6 466.1M218.5 505.0L245.7 485.7M240.6 489.4L246.1 493.6M222.4 536.7L250.7 519.1M245.4 522.4L250.7 527.0M226.4 568.3L256.8 554.8M251.1 557.3L255.7 562.6M230.3 599.9L262.1 590.0M256.1 591.9L260.1 597.6M234.2 631.3L266.3 640.1M260.3 638.4L260.6 645.4M238.0 662.7L270.9 668.5M264.7 667.4L265.6 674.4M241.9 694.0L271.3 709.7M265.8 706.7L264.5 713.6M245.7 725.2L268.1 749.9M263.9 745.3L260.3 751.3M249.5 756.4m-5.0 0a5.0 5.0 0 1 0 10.0 0a5.0 5.0 0 1 0 -10.0 0M253.3 787.4L283.2 772.7M277.6 775.4L282.4 780.5M257.1 818.4m-5.0 0a5.0 5.0 0 1 0 10.0 0a5.0 5.0 0 1 0 -10.0 0M260.8 849.3m-5.0 0a5.0 5.0 0 1 0 10.0 0a5.0 5.0 0 1 0 -10.0 0M264.5 880.1m-5.0 0a5.0 5.0 0 1 0 10.0 0a5.0 5.0 0 1 0 -10.0 0M268.2 910.8m-5.0 0a5.0 5.0 0 1 0 10.0 0a5.0 5.0 0 1 0 -10.0 0M271.9 941.5m-5.0 0a5.0 5.0 0 1 0 10.0 0a5.0 5.0 0 1 0 -10.0 0M275.5 972.1L270.1 1005.0M271.1 998.8L264.2 999.8M279.2 1002.6m-5.0 0a5.0 5.0 0 1 0 10.0 0a5.0 5.0 0 1 0 -10.0 0M282.8 1033.1m-5.0 0a5.0 5.0 0 1 0 10.0 0a5.0 5.0 0 1 0 -10.0 0M286.3 1063.4m-5.0 0a5.0 5.0 0 1 0 10.0 0a5.0 5.0 0 1 0 -10.0 0M289.9 1093.7m-5.0 0a5.0 5.0 0 1 0 10.0 0a5.0 5.0 0 1 0 -10.0 0M293.4 1124.0m-5.0 0a5.0 5.0 0 1 0 10.0 0a5.0 5.0 0 1 0 -10.0 0M296.9 1154.1L290.7 1186.9M291.8 1180.7L284.9 1181.5M300.4 1184.2m-5.0 0a5.0 5.0 0 1 0 10.0 0a5.0 5.0 0 1 0 -10.0 0M303.8 1214.2m-5.0 0a5.0 5.0 0 1 0 10.0 0a5.0 5.0 0 1 0 -10.0 0M307.3 1244.2m-5.0 0a5.0 5.0 0 1 0 10.0 0a5.0 5.0 0 1 0 -10.0 0M211.1 178.8L209.5 145.5M209.8 151.7L216.4 149.4M215.1 211.4L210.8 178.4M211.6 184.6L218.0 181.7M219.1 244.0L217.0 210.7M217.4 216.9L223.9 214.4M223.1 276.4L234.9 245.3M232.7 251.1L239.7 251.5M227.1 308.8L253.1 288.0M248.3 291.9L254.1 295.8M231.1 341.0L263.6 333.7M257.5 335.1L261.0 341.1M235.0 373.2L267.4 365.2M261.3 366.7L264.9 372.7M239.0 405.3L272.2 402.4M272.2 402.4L277.5 415.3M242.9 437.3L274.7 427.3M268.7 429.2L272.7 434.9M246.8 469.2L274.8 451.2M269.6 454.6L274.9 459.1M250.6 501.0m-5.0 0a5.0 5.0 0 1 0 10.0 0a5.0 5.0 0 1 0 -10.0 0M254.5 532.8L278.4 509.5M273.9 513.9L280.1 517.2M258.3 564.4L290.2 554.7M284.2 556.6L288.2 562.3M262.1 596.0L294.5 587.9M288.4 589.4L292.0 595.4M265.9 627.5L298.7 633.7M292.5 632.6L293.3 639.5M269.7 658.9L302.9 662.2M296.6 661.6L298.0 668.4M273.4 690.2m-5.0 0a5.0 5.0 0 1 0 10.0 0a5.0 5.0 0 1 0 -10.0 0M277.2 721.4m-5.0 0a5.0 5.0 0 1 0 10.0 0a5.0 5.0 0 1 0 -10.0 0M280.9 752.6m-5.0 0a5.0 5.0 0 1 0 10.0 0a5.0 5.0 0 1 0 -10.0 0M284.6 783.7m-5.0 0a5.0 5.0 0 1 0 10.0 0a5.0 5.0 0 1 0 -10.0 0M288.2 814.7m-5.0 0a5.0 5.0 0 1 0 10.0 0a5.0 5.0 0 1 0 -10.0 0M291.9 845.6m-5.0 0a5.0 5.0 0 1 0 10.0 0a5.0 5.0 0 1 0 -10.0 0M295.5 876.4m-5.0 0a5.0 5.0 0 1 0 10.0 0a5.0 5.0 0 1 0 -10.0 0M299.1 907.2m-5.0 0a5.0 5.0 0 1 0 10.0 0a5.0 5.0 0 1 0 -10.0 0M302.7 937.9L282.8 964.6M286.5 959.6L279.9 957.3M306.2 968.5L278.6 987.3M283.8 983.7L278.3 979.4M309.7 999.1L290.0 1025.9M293.7 1020.9L287.1 1018.6M313.2 1029.5L296.5 1058.4M299.7 1053.0L292.9 1051.4M316.7 1059.9m-5.0 0a5.0 5.0 0 1 0 10.0 0a5.0 5.0 0 1 0 -10.0 0M320.2 1090.3m-5.0 0a5.0 5.0 0 1 0 10.0 0a5.0 5.0 0 1 0 -10.0 0M323.6 1120.5m-5.0 0a5.0 5.0 0 1 0 10.0 0a5.0 5.0 0 1 0 -10.0 0M327.0 1150.7m-5.0 0a5.0 5.0 0 1 0 10.0 0a5.0 5.0 0 1 0 -10.0 0M330.4 1180.8L333.3 1214.0M332.8 1207.8L326.3 1210.5M333.8 1210.9m-5.0 0a5.0 5.0 0 1 0 10.0 0a5.0 5.0 0 1 0 -10.0 0M337.1 1240.9m-5.0 0a5.0 5.0 0 1 0 10.0 0a5.0 5.0 0 1 0 -10.0 0M244.4 174.7L239.6 141.7M240.5 147.9L246.8 144.9M248.3 207.4L243.4 174.4M244.3 180.6L250.6 177.5M252.2 239.9L251.1 206.6M251.3 212.9L257.9 210.6M256.1 272.4L280.7 249.9M276.1 254.1L282.1 257.7M260.0 304.8L291.1 293.0M285.3 295.2L289.6 300.7M263.8 337.1L296.7 331.8M290.6 332.8L293.7 339.0M267.7 369.3L300.6 374.2M300.6 374.2L302.7 388.0M271.5 401.4L304.5 397.2M304.5 397.2L310.4 409.9M275.3 433.4L308.0 426.9M301.8 428.1L305.2 434.2M279.1 465.3L311.9 471.3M305.7 470.2L306.6 477.1M282.8 497.2m-5.0 0a5.0 5.0 0 1 0 10.0 0a5.0 5.0 0 1 0 -10.0 0M286.6 528.9L318.9 520.7M312.8 522.2L316.5 528.2M290.3 560.6L323.6 562.4M317.3 562.0L319.1 568.8M294.0 592.2L327.2 588.8M320.9 589.4L323.7 595.8M297.7 623.7L329.8 614.9M323.8 616.5L327.6 622.4M301.4 655.1L334.5 651.2M328.3 652.0L331.1 658.3M305.0 686.5L338.1 682.2M331.9 683.0L334.8 689.3M308.6 717.7m-5.0 0a5.0 5.0 0 1 0 10.0 0a5.0 5.0 0 1 0 -10.0 0M312.2 748.9m-5.0 0a5.0 5.0 0 1 0 10.0 0a5.0 5.0 0 1 0 -10.0 0M315.8 780.0L348.0 788.6M342.0 787.0L342.3 793.9M322.9 842.0m-5.0 0a5.0 5.0 0 1 0 10.0 0a5.0 5.0 0 1 0 -10.0 0M326.5 872.9m-5.0 0a5.0 5.0 0 1 0 10.0 0a5.0 5.0 0 1 0 -10.0 0M330.0 903.6m-5.0 0a5.0 5.0 0 1 0 10.0 0a5.0 5.0 0 1 0 -10.0 0M333.4 934.4L301.4 925.3M307.4 927.0L307.2 920.0M336.9 965.0m-5.0 0a5.0 5.0 0 1 0 10.0 0a5.0 5.0 0 1 0 -10.0 0M340.3 995.6L339.3 1028.9M339.5 1022.7L332.7 1024.5M343.7 1026.1L339.9 1059.2M340.6 1053.0L333.7 1054.3M347.1 1056.5L341.1 1089.3M342.3 1083.2L335.3 1084.0M350.5 1086.9m-5.0 0a5.0 5.0 0 1 0 10.0 0a5.0 5.0 0 1 0 -10.0 0M353.8 1117.2m-5.0 0a5.0 5.0 0 1 0 10.0 0a5.0 5.0 0 1 0 -10.0 0M357.2 1147.4L353.1 1180.5M353.9 1174.3L347.0 1175.5M360.5 1177.5L363.3 1210.7M362.7 1204.5L356.3 1207.1M363.7 1207.6m-5.0 0a5.0 5.0 0 1 0 10.0 0a5.0 5.0 0 1 0 -10.0 0M367.0 1237.6L382.9 1266.9M379.9 1261.4L375.0 1266.4M277.7 170.8L272.6 137.8M273.6 144.0L279.9 140.9M281.5 203.4L278.3 170.2M278.9 176.5L285.3 173.8M285.3 236.0L294.9 204.1M293.1 210.1L300.1 210.0M289.1 268.5L320.2 256.5M314.3 258.8L318.7 264.3M292.8 300.9L325.8 295.8M319.6 296.7L322.7 303.0M296.6 333.2L329.8 335.6M323.6 335.1L325.2 341.9M300.3 365.4L333.1 371.4M327.0 370.3L327.8 377.2M304.0 397.5L335.6 408.1M329.7 406.1L329.6 413.1M307.7 429.6L334.8 449.0M329.7 445.4L327.5 452.0M311.4 461.5L325.2 491.9M322.6 486.2L317.4 490.8M315.0 493.4m-5.0 0a5.0 5.0 0 1 0 10.0 0a5.0 5.0 0 1 0 -10.0 0M318.7 525.2L346.2 544.0M341.0 540.5L339.0 547.2M322.3 556.9L355.1 550.9M348.9 552.0L352.2 558.2M325.9 588.5L359.1 586.0M352.9 586.5L355.5 593.0M329.5 620.0L362.7 622.4M356.5 621.9L358.1 628.7M333.1 651.5L366.0 646.7M359.9 647.6L362.9 653.9M336.6 682.8L369.5 677.7M363.4 678.7L366.4 684.9M340.1 714.1m-5.0 0a5.0 5.0 0 1 0 10.0 0a5.0 5.0 0 1 0 -10.0 0M343.6 745.3L345.8 778.6M345.4 772.4L338.9 774.9M347.1 776.5m-5.0 0a5.0 5.0 0 1 0 10.0 0a5.0 5.0 0 1 0 -10.0 0M350.6 807.5L358.2 775.1M356.8 781.2L363.8 780.7M354.0 838.5m-5.0 0a5.0 5.0 0 1 0 10.0 0a5.0 5.0 0 1 0 -10.0 0M357.5 869.4L370.5 838.7M368.1 844.5L375.0 845.2M360.9 900.2L370.6 868.3M370.6 868.3L384.6 868.2M364.2 930.9m-5.0 0a5.0 5.0 0 1 0 10.0 0a5.0 5.0 0 1 0 -10.0 0M367.6 961.6m-5.0 0a5.0 5.0 0 1 0 10.0 0a5.0 5.0 0 1 0 -10.0 0M374.3 1022.7m-5.0 0a5.0 5.0 0 1 0 10.0 0a5.0 5.0 0 1 0 -10.0 0M377.6 1053.2m-5.0 0a5.0 5.0 0 1 0 10.0 0a5.0 5.0 0 1 0 -10.0 0M380.8 1083.6m-5.0 0a5.0 5.0 0 1 0 10.0 0a5.0 5.0 0 1 0 -10.0 0M384.1 1113.9m-5.0 0a5.0 5.0 0 1 0 10.0 0a5.0 5.0 0 1 0 -10.0 0M387.3 1144.1L394.0 1176.8M392.7 1170.7L386.6 1174.0M390.5 1174.3L395.7 1207.2M394.7 1201.1L388.5 1204.2M393.7 1204.4L398.6 1237.4M397.7 1231.2L391.4 1234.2M396.9 1234.4L403.4 1267.1M402.2 1261.0L396.0 1264.4M400.0 1264.4L406.8 1297.0M405.5 1290.9L399.4 1294.3M311.0 166.9L308.0 133.7M308.6 139.9L315.1 137.3M314.7 199.6m-5.0 0a5.0 5.0 0 1 0 10.0 0a5.0 5.0 0 1 0 -10.0 0M318.4 232.2m-5.0 0a5.0 5.0 0 1 0 10.0 0a5.0 5.0 0 1 0 -10.0 0M322.1 264.7L349.9 246.3M344.7 249.8L350.1 254.2M325.7 297.1L357.9 305.7M351.9 304.1L352.2 311.0M329.4 329.5L359.3 344.1M353.7 341.4L352.6 348.3M333.0 361.7L364.5 372.5M358.6 370.5L358.4 377.4M336.6 393.8L365.5 410.4M360.1 407.3L358.6 414.1M340.2 425.9L367.1 445.5M362.0 441.9L359.8 448.5M343.7 457.9L371.9 475.6M366.6 472.3L364.9 479.1M347.3 489.8L375.5 507.5M370.2 504.2L368.4 510.9M350.8 521.6L383.8 526.1M377.6 525.2L378.8 532.1M354.3 553.3L386.9 546.4M380.8 547.7L384.2 553.8M357.8 584.9L390.9 581.0M384.7 581.8L387.6 588.1M361.3 616.5L394.3 621.0M388.1 620.2L389.3 627.1M364.8 647.9L398.0 650.4M391.8 649.9L393.4 656.7M368.2 679.3L401.2 674.6M395.0 675.5L398.0 681.8M371.6 710.6L397.5 689.6M392.6 693.5L398.4 697.4M375.0 741.9m-5.0 0a5.0 5.0 0 1 0 10.0 0a5.0 5.0 0 1 0 -10.0 0M378.4 773.0m-5.0 0a5.0 5.0 0 1 0 10.0 0a5.0 5.0 0 1 0 -10.0 0M381.8 804.1L392.2 772.4M390.2 778.4L397.2 778.4M385.1 835.1m-5.0 0a5.0 5.0 0 1 0 10.0 0a5.0 5.0 0 1 0 -10.0 0M388.5 866.0m-5.0 0a5.0 5.0 0 1 0 10.0 0a5.0 5.0 0 1 0 -10.0 0M391.8 896.9L418.4 876.8M413.4 880.6L419.1 884.7M395.1 927.6m-5.0 0a5.0 5.0 0 1 0 10.0 0a5.0 5.0 0 1 0 -10.0 0M398.3 958.3m-5.0 0a5.0 5.0 0 1 0 10.0 0a5.0 5.0 0 1 0 -10.0 0M401.6 988.9m-5.0 0a5.0 5.0 0 1 0 10.0 0a5.0 5.0 0 1 0 -10.0 0M404.8 1019.5L392.0 1050.3M394.4 1044.5L387.5 1043.9M408.0 1050.0L379.6 1067.4M384.9 1064.1L379.6 1059.5M411.2 1080.4m-5.0 0a5.0 5.0 0 1 0 10.0 0a5.0 5.0 0 1 0 -10.0 0M414.3 1110.7L412.4 1144.0M412.8 1137.7L406.0 1139.4M417.5 1141.0L414.5 1174.2M415.1 1168.0L408.3 1169.4M420.6 1171.2L424.4 1204.3M423.7 1198.1L417.3 1200.9M423.7 1201.3L426.4 1234.5M425.9 1228.3L419.4 1230.9M426.8 1231.4L426.1 1264.7M426.2 1258.5L419.5 1260.4M344.4 163.2L343.7 129.8M343.8 136.1L350.5 133.9M348.0 195.9m-5.0 0a5.0 5.0 0 1 0 10.0 0a5.0 5.0 0 1 0 -10.0 0M351.5 228.5m-5.0 0a5.0 5.0 0 1 0 10.0 0a5.0 5.0 0 1 0 -10.0 0M355.1 261.0L386.9 270.9M381.0 269.0L381.0 276.0M358.6 293.5L385.9 312.7M380.8 309.1L378.6 315.7M362.1 325.8L392.2 340.1M386.6 337.5L385.6 344.4M365.7 358.1L396.8 369.9M391.0 367.7L390.5 374.7M369.1 390.2L396.9 408.7M391.7 405.3L389.7 412.0M372.6 422.3L397.7 444.3M393.0 440.2L390.1 446.6M376.1 454.3L402.7 474.4M397.7 470.6L395.4 477.2M379.5 486.2L410.3 499.1M404.5 496.7L403.9 503.6M383.0 518.1L415.8 523.5M409.7 522.5L410.6 529.4M386.4 549.8L419.5 545.8M413.3 546.6L416.1 552.9M389.8 581.4L422.1 589.3M416.1 587.9L416.5 594.8M393.1 613.0L426.0 618.6M419.8 617.5L420.8 624.4M396.5 644.5L429.2 650.9M423.1 649.7L423.8 656.7M399.8 675.9L433.0 672.3M426.8 673.0L429.6 679.4M403.2 707.3m-5.0 0a5.0 5.0 0 1 0 10.0 0a5.0 5.0 0 1 0 -10.0 0M406.5 738.5m-5.0 0a5.0 5.0 0 1 0 10.0 0a5.0 5.0 0 1 0 -10.0 0M409.8 769.7m-5.0 0a5.0 5.0 0 1 0 10.0 0a5.0 5.0 0 1 0 -10.0 0M413.0 800.8m-5.0 0a5.0 5.0 0 1 0 10.0 0a5.0 5.0 0 1 0 -10.0 0M416.3 831.8L383.0 834.0M389.2 833.6L386.7 827.0M419.5 862.7L399.9 835.8M403.6 840.8L407.7 835.2M422.7 893.6m-5.0 0a5.0 5.0 0 1 0 10.0 0a5.0 5.0 0 1 0 -10.0 0M425.9 924.4m-5.0 0a5.0 5.0 0 1 0 10.0 0a5.0 5.0 0 1 0 -10.0 0M429.1 955.1L429.1 921.8M429.1 928.0L435.7 925.9M432.2 985.8m-5.0 0a5.0 5.0 0 1 0 10.0 0a5.0 5.0 0 1 0 -10.0 0M435.4 1016.3L425.4 1048.2M427.3 1042.2L420.3 1042.2M438.5 1046.8L419.0 1073.9M422.6 1068.8L416.0 1066.6M441.6 1077.3L434.6 1109.9M435.9 1103.8L429.0 1104.4M444.6 1107.6L435.1 1139.6M436.9 1133.6L429.9 1133.7M447.7 1137.9L429.7 1166.0M433.1 1160.7L426.4 1158.9M450.7 1168.1L445.8 1201.1M446.7 1194.9L439.8 1196.0M453.7 1198.3m-5.0 0a5.0 5.0 0 1 0 10.0 0a5.0 5.0 0 1 0 -10.0 0M456.7 1228.4L441.7 1258.2M444.5 1252.6L437.6 1251.5M459.7 1258.4m-5.0 0a5.0 5.0 0 1 0 10.0 0a5.0 5.0 0 1 0 -10.0 0M377.7 159.6L381.6 126.4M380.8 132.7L387.7 131.3M381.2 192.3m-5.0 0a5.0 5.0 0 1 0 10.0 0a5.0 5.0 0 1 0 -10.0 0M384.7 224.9m-5.0 0a5.0 5.0 0 1 0 10.0 0a5.0 5.0 0 1 0 -10.0 0M388.1 257.5L410.6 282.0M406.4 277.4L402.9 283.5M391.5 289.9L417.2 311.2M412.4 307.2L409.8 313.6M395.0 322.3L422.5 341.1M417.3 337.5L415.3 344.2M398.3 354.6L430.8 362.3M424.7 360.9L425.2 367.8M401.7 386.8L434.8 391.0M428.6 390.2L429.8 397.1M408.5 450.9L437.8 466.7M432.3 463.8L430.9 470.6M411.8 482.8L442.5 495.9M436.7 493.4L436.0 500.4M418.4 546.4L451.3 540.9M451.3 540.9L457.6 553.3M421.7 578.1L454.6 572.4M448.4 573.4L451.6 579.6M425.0 609.7L457.7 616.2M451.5 615.0L452.3 621.9M428.2 641.2L461.6 641.8M455.3 641.7L457.3 648.4M431.5 672.6L464.7 670.1M458.5 670.6L461.1 677.0M434.7 704.0L466.1 692.8M460.2 694.9L464.4 700.5M437.9 735.2L445.9 702.9M444.4 709.0L451.4 708.5M441.1 766.4L412.6 749.2M417.9 752.4L419.6 745.6M444.3 797.6m-5.0 0a5.0 5.0 0 1 0 10.0 0a5.0 5.0 0 1 0 -10.0 0M447.4 828.6m-5.0 0a5.0 5.0 0 1 0 10.0 0a5.0 5.0 0 1 0 -10.0 0M450.6 859.6L445.3 892.5M446.3 886.3L439.4 887.3M453.7 890.5m-5.0 0a5.0 5.0 0 1 0 10.0 0a5.0 5.0 0 1 0 -10.0 0M456.8 921.3m-5.0 0a5.0 5.0 0 1 0 10.0 0a5.0 5.0 0 1 0 -10.0 0M459.9 952.0m-5.0 0a5.0 5.0 0 1 0 10.0 0a5.0 5.0 0 1 0 -10.0 0M466.0 1013.3L496.9 1025.7M491.1 1023.3L490.6 1030.3M469.0 1043.8L476.4 1076.3M475.0 1070.2L469.0 1073.7M472.0 1074.3L460.8 1105.7M462.9 1099.8L455.9 1099.5M475.0 1104.6L466.7 1136.9M468.2 1130.9L461.2 1131.2M477.9 1135.0L472.2 1167.8M473.3 1161.6L466.4 1162.6M480.9 1165.2L478.0 1198.4M478.5 1192.2L471.7 1193.7M483.8 1195.4m-5.0 0a5.0 5.0 0 1 0 10.0 0a5.0 5.0 0 1 0 -10.0 0M486.7 1225.5m-5.0 0a5.0 5.0 0 1 0 10.0 0a5.0 5.0 0 1 0 -10.0 0M489.5 1255.6m-5.0 0a5.0 5.0 0 1 0 10.0 0a5.0 5.0 0 1 0 -10.0 0M421.2 254.0m-5.0 0a5.0 5.0 0 1 0 10.0 0a5.0 5.0 0 1 0 -10.0 0M424.5 286.5L449.8 308.2M445.0 304.1L442.3 310.6M427.8 318.9L455.8 336.9M450.6 333.5L448.7 340.3M431.1 351.2L460.4 367.0M454.9 364.0L453.6 370.9M434.3 383.4L465.9 394.2M459.9 392.2L459.8 399.2M437.6 415.5m-5.0 0a5.0 5.0 0 1 0 10.0 0a5.0 5.0 0 1 0 -10.0 0M440.8 447.5m-5.0 0a5.0 5.0 0 1 0 10.0 0a5.0 5.0 0 1 0 -10.0 0M444.1 479.5L473.6 495.0M468.0 492.1L466.8 499.0M447.3 511.3m-5.0 0a5.0 5.0 0 1 0 10.0 0a5.0 5.0 0 1 0 -10.0 0M450.5 543.1L483.3 537.0M477.1 538.1L480.4 544.3M453.7 574.8L486.0 566.8M480.0 568.3L483.6 574.3M456.9 606.4L489.5 613.0M483.4 611.7L484.1 618.7M460.0 638.0L493.3 636.1M487.0 636.4L489.5 643.0M463.1 669.4L496.0 663.9M489.9 664.9L493.0 671.1M466.3 700.8L497.7 689.8M491.8 691.8L496.0 697.4M469.4 732.1L486.8 703.7M483.5 709.0L490.3 710.7M472.5 763.3L450.7 738.1M454.8 742.8L458.4 736.9M475.5 794.4L442.9 787.5M449.1 788.8L448.4 781.9M478.6 825.5L454.1 802.9M458.7 807.2L461.6 800.9M481.6 856.5m-5.0 0a5.0 5.0 0 1 0 10.0 0a5.0 5.0 0 1 0 -10.0 0M484.7 887.4m-5.0 0a5.0 5.0 0 1 0 10.0 0a5.0 5.0 0 1 0 -10.0 0M487.7 918.2m-5.0 0a5.0 5.0 0 1 0 10.0 0a5.0 5.0 0 1 0 -10.0 0M490.6 949.0m-5.0 0a5.0 5.0 0 1 0 10.0 0a5.0 5.0 0 1 0 -10.0 0M493.6 979.7m-5.0 0a5.0 5.0 0 1 0 10.0 0a5.0 5.0 0 1 0 -10.0 0M496.6 1010.3m-5.0 0a5.0 5.0 0 1 0 10.0 0a5.0 5.0 0 1 0 -10.0 0M499.5 1040.9m-5.0 0a5.0 5.0 0 1 0 10.0 0a5.0 5.0 0 1 0 -10.0 0M502.4 1071.3m-5.0 0a5.0 5.0 0 1 0 10.0 0a5.0 5.0 0 1 0 -10.0 0M505.3 1101.7m-5.0 0a5.0 5.0 0 1 0 10.0 0a5.0 5.0 0 1 0 -10.0 0M508.2 1132.1L493.6 1162.1M496.3 1156.4L489.4 1155.4M511.0 1162.4L497.2 1192.7M499.8 1187.0L492.9 1186.2M513.8 1192.6L497.6 1221.7M500.6 1216.2L493.8 1214.8M516.6 1222.7L492.4 1245.5M496.9 1241.2L490.8 1237.8M519.4 1252.8m-5.0 0a5.0 5.0 0 1 0 10.0 0a5.0 5.0 0 1 0 -10.0 0M457.4 283.2m-5.0 0a5.0 5.0 0 1 0 10.0 0a5.0 5.0 0 1 0 -10.0 0M460.6 315.6L488.1 334.5M482.9 331.0L480.8 337.6M463.8 347.9m-5.0 0a5.0 5.0 0 1 0 10.0 0a5.0 5.0 0 1 0 -10.0 0M467.0 380.1L496.9 394.8M491.3 392.0L490.2 398.9M470.1 412.3m-5.0 0a5.0 5.0 0 1 0 10.0 0a5.0 5.0 0 1 0 -10.0 0M473.3 444.3L501.3 426.3M496.0 429.7L501.4 434.2M476.4 476.3L479.3 443.1M478.7 449.3L485.5 447.8M479.5 508.2L509.1 492.8M503.5 495.7L508.5 500.7M482.6 539.9L515.1 532.6M509.0 534.0L512.5 540.0M485.7 571.7m-5.0 0a5.0 5.0 0 1 0 10.0 0a5.0 5.0 0 1 0 -10.0 0M488.7 603.3L521.7 608.3M521.7 608.3L523.8 622.1M491.8 634.8L525.0 638.0M518.8 637.4L520.2 644.3M494.8 666.3L527.3 659.0M521.3 660.4L524.8 666.4M497.9 697.7L528.3 684.2M522.6 686.7L527.2 692.0M500.9 729.0L514.7 698.7M512.1 704.4L519.1 705.3M503.9 760.3L495.8 727.9M497.3 734.0L503.3 730.3M506.8 791.4L475.4 802.4M481.3 800.4L477.1 794.8M509.8 822.5L478.6 810.7M484.5 812.9L484.9 805.9M512.7 853.5L485.9 833.7M490.9 837.4L493.2 830.8M515.7 884.4m-5.0 0a5.0 5.0 0 1 0 10.0 0a5.0 5.0 0 1 0 -10.0 0M518.6 915.3m-5.0 0a5.0 5.0 0 1 0 10.0 0a5.0 5.0 0 1 0 -10.0 0M521.5 946.1L499.3 971.0M503.5 966.3L497.1 963.5M524.3 976.8m-5.0 0a5.0 5.0 0 1 0 10.0 0a5.0 5.0 0 1 0 -10.0 0M527.2 1007.4m-5.0 0a5.0 5.0 0 1 0 10.0 0a5.0 5.0 0 1 0 -10.0 0M530.0 1038.0m-5.0 0a5.0 5.0 0 1 0 10.0 0a5.0 5.0 0 1 0 -10.0 0M532.8 1068.5L564.6 1058.4M558.7 1060.3L562.7 1066.1M535.6 1098.9m-5.0 0a5.0 5.0 0 1 0 10.0 0a5.0 5.0 0 1 0 -10.0 0M538.4 1129.3L570.3 1119.4M564.3 1121.3L568.3 1127.0M541.2 1159.6m-5.0 0a5.0 5.0 0 1 0 10.0 0a5.0 5.0 0 1 0 -10.0 0M543.9 1189.8L521.0 1214.0M525.3 1209.5L519.0 1206.4M546.7 1220.0m-5.0 0a5.0 5.0 0 1 0 10.0 0a5.0 5.0 0 1 0 -10.0 0M549.4 1250.1L567.7 1277.9M564.2 1272.7L559.8 1278.1M481.1 182.2m-5.0 0a5.0 5.0 0 1 0 10.0 0a5.0 5.0 0 1 0 -10.0 0M484.2 214.9m-5.0 0a5.0 5.0 0 1 0 10.0 0a5.0 5.0 0 1 0 -10.0 0M490.4 280.0m-5.0 0a5.0 5.0 0 1 0 10.0 0a5.0 5.0 0 1 0 -10.0 0M493.5 312.4m-5.0 0a5.0 5.0 0 1 0 10.0 0a5.0 5.0 0 1 0 -10.0 0M496.5 344.7m-5.0 0a5.0 5.0 0 1 0 10.0 0a5.0 5.0 0 1 0 -10.0 0M499.6 377.0L515.4 406.3M512.5 400.8L507.6 405.8M502.6 409.1m-5.0 0a5.0 5.0 0 1 0 10.0 0a5.0 5.0 0 1 0 -10.0 0M505.7 441.2m-5.0 0a5.0 5.0 0 1 0 10.0 0a5.0 5.0 0 1 0 -10.0 0M508.7 473.2m-5.0 0a5.0 5.0 0 1 0 10.0 0a5.0 5.0 0 1 0 -10.0 0M511.7 505.1m-5.0 0a5.0 5.0 0 1 0 10.0 0a5.0 5.0 0 1 0 -10.0 0M514.7 536.9L538.2 513.2M533.8 517.7L540.0 520.9M517.7 568.6L551.0 570.1M544.7 569.8L546.5 576.6M520.6 600.3L552.9 608.7M546.8 607.1L547.2 614.1M523.6 631.8L556.5 626.7M550.4 627.7L553.4 633.9M526.5 663.3L558.9 655.2M552.8 656.8L556.4 662.7M529.5 694.7L557.8 677.1M552.5 680.4L557.7 685.0M532.4 726.1L543.1 694.5M541.1 700.4L548.0 700.6M535.3 757.3m-5.0 0a5.0 5.0 0 1 0 10.0 0a5.0 5.0 0 1 0 -10.0 0M538.1 788.5L520.6 760.1M523.9 765.5L528.5 760.2M541.0 819.6L509.4 808.9M515.3 810.9L515.5 803.9M543.8 850.6m-5.0 0a5.0 5.0 0 1 0 10.0 0a5.0 5.0 0 1 0 -10.0 0M549.5 912.5m-5.0 0a5.0 5.0 0 1 0 10.0 0a5.0 5.0 0 1 0 -10.0 0M552.3 943.3L574.6 968.0M570.4 963.4L566.8 969.4M555.1 974.0m-5.0 0a5.0 5.0 0 1 0 10.0 0a5.0 5.0 0 1 0 -10.0 0M557.8 1004.7m-5.0 0a5.0 5.0 0 1 0 10.0 0a5.0 5.0 0 1 0 -10.0 0M560.6 1035.3m-5.0 0a5.0 5.0 0 1 0 10.0 0a5.0 5.0 0 1 0 -10.0 0M563.3 1065.8m-5.0 0a5.0 5.0 0 1 0 10.0 0a5.0 5.0 0 1 0 -10.0 0M566.0 1096.2m-5.0 0a5.0 5.0 0 1 0 10.0 0a5.0 5.0 0 1 0 -10.0 0M568.7 1126.6m-5.0 0a5.0 5.0 0 1 0 10.0 0a5.0 5.0 0 1 0 -10.0 0M571.4 1156.9L604.7 1156.9M598.5 1156.9L600.5 1163.6M574.0 1187.2L607.1 1183.1M600.9 1183.8L603.8 1190.2M576.7 1217.4L560.0 1246.3M563.1 1240.8L556.3 1239.3M579.3 1247.5L611.3 1238.0M605.3 1239.8L609.2 1245.6M514.4 179.1m-5.0 0a5.0 5.0 0 1 0 10.0 0a5.0 5.0 0 1 0 -10.0 0M517.4 211.8m-5.0 0a5.0 5.0 0 1 0 10.0 0a5.0 5.0 0 1 0 -10.0 0M520.4 244.4m-5.0 0a5.0 5.0 0 1 0 10.0 0a5.0 5.0 0 1 0 -10.0 0M523.4 276.9m-5.0 0a5.0 5.0 0 1 0 10.0 0a5.0 5.0 0 1 0 -10.0 0M526.3 309.3L529.3 342.5M528.8 336.3L522.3 339.0M529.3 341.7L544.5 371.3M541.7 365.8L536.7 370.7M532.2 373.9L552.5 400.4M548.7 395.4L544.6 401.2M535.2 406.1L551.5 435.2M548.4 429.7L543.6 434.8M538.1 438.2m-5.0 0a5.0 5.0 0 1 0 10.0 0a5.0 5.0 0 1 0 -10.0 0M541.0 470.2L559.6 497.9M559.6 497.9L550.8 508.8M546.8 533.9L565.0 561.9M565.0 561.9L556.1 572.6M552.6 597.3m-5.0 0a5.0 5.0 0 1 0 10.0 0a5.0 5.0 0 1 0 -10.0 0M555.4 628.9L588.6 632.2M582.4 631.6L583.8 638.5M558.2 660.4L589.0 647.7M583.3 650.1L587.7 655.4M561.1 691.9L588.2 672.5M583.1 676.2L588.7 680.4M563.9 723.2m-5.0 0a5.0 5.0 0 1 0 10.0 0a5.0 5.0 0 1 0 -10.0 0M566.7 754.5m-5.0 0a5.0 5.0 0 1 0 10.0 0a5.0 5.0 0 1 0 -10.0 0M569.5 785.7m-5.0 0a5.0 5.0 0 1 0 10.0 0a5.0 5.0 0 1 0 -10.0 0M572.2 816.8L539.7 809.3M545.8 810.7L545.3 803.7M575.0 847.9L545.5 863.5M551.0 860.5L546.1 855.6M577.7 878.8L563.9 909.2M566.5 903.5L559.6 902.6M580.4 909.7L610.9 923.2M605.2 920.7L604.4 927.6M583.1 940.5m-5.0 0a5.0 5.0 0 1 0 10.0 0a5.0 5.0 0 1 0 -10.0 0M585.8 971.3m-5.0 0a5.0 5.0 0 1 0 10.0 0a5.0 5.0 0 1 0 -10.0 0M588.5 1002.0m-5.0 0a5.0 5.0 0 1 0 10.0 0a5.0 5.0 0 1 0 -10.0 0M591.1 1032.6m-5.0 0a5.0 5.0 0 1 0 10.0 0a5.0 5.0 0 1 0 -10.0 0M593.8 1063.1m-5.0 0a5.0 5.0 0 1 0 10.0 0a5.0 5.0 0 1 0 -10.0 0M596.4 1093.6m-5.0 0a5.0 5.0 0 1 0 10.0 0a5.0 5.0 0 1 0 -10.0 0M599.0 1124.0m-5.0 0a5.0 5.0 0 1 0 10.0 0a5.0 5.0 0 1 0 -10.0 0M601.6 1154.4m-5.0 0a5.0 5.0 0 1 0 10.0 0a5.0 5.0 0 1 0 -10.0 0M604.2 1184.6L634.6 1171.1M628.9 1173.6L633.5 1178.9M606.7 1214.8L637.9 1203.0M632.0 1205.2L636.3 1210.7M609.2 1245.0m-5.0 0a5.0 5.0 0 1 0 10.0 0a5.0 5.0 0 1 0 -10.0 0M547.7 176.1m-5.0 0a5.0 5.0 0 1 0 10.0 0a5.0 5.0 0 1 0 -10.0 0M550.6 208.8m-5.0 0a5.0 5.0 0 1 0 10.0 0a5.0 5.0 0 1 0 -10.0 0M553.5 241.4L523.0 254.8M528.7 252.3L524.1 247.0M556.3 273.9L537.3 301.3M540.9 296.2L534.2 294.1M559.2 306.4L557.7 339.7M558.0 333.4L551.2 335.2M562.1 338.7L576.7 368.7M574.0 363.0L568.9 367.9M564.9 371.0L584.0 398.3M580.4 393.2L576.1 398.7M567.7 403.2L584.7 431.9M581.5 426.5L576.9 431.7M570.6 435.3L589.5 462.7M586.0 457.5L581.7 463.0M573.4 467.3L596.1 491.7M591.8 487.1L588.3 493.2M584.5 594.5m-5.0 0a5.0 5.0 0 1 0 10.0 0a5.0 5.0 0 1 0 -10.0 0M590.0 657.6L621.8 647.7M615.8 649.5L619.8 655.3M592.7 689.1L622.2 673.6M616.7 676.5L621.6 681.5M595.4 720.5m-5.0 0a5.0 5.0 0 1 0 10.0 0a5.0 5.0 0 1 0 -10.0 0M598.1 751.8L630.3 743.0M624.2 744.7L628.0 750.6M600.8 783.0L618.4 754.7M615.1 760.0L621.9 761.7M603.5 814.1L628.5 792.1M623.8 796.2L629.8 799.8M606.1 845.2L627.6 870.7M623.5 865.9L619.8 871.8M608.8 876.2L640.0 864.6M634.2 866.8L638.4 872.3M611.4 907.1L644.6 904.4M638.4 904.9L641.0 911.4M614.0 937.9L647.0 942.6M640.8 941.7L641.9 948.6M616.6 968.7m-5.0 0a5.0 5.0 0 1 0 10.0 0a5.0 5.0 0 1 0 -10.0 0M619.2 999.4m-5.0 0a5.0 5.0 0 1 0 10.0 0a5.0 5.0 0 1 0 -10.0 0M621.7 1030.0m-5.0 0a5.0 5.0 0 1 0 10.0 0a5.0 5.0 0 1 0 -10.0 0M624.3 1060.6m-5.0 0a5.0 5.0 0 1 0 10.0 0a5.0 5.0 0 1 0 -10.0 0M626.8 1091.1m-5.0 0a5.0 5.0 0 1 0 10.0 0a5.0 5.0 0 1 0 -10.0 0M629.3 1121.5m-5.0 0a5.0 5.0 0 1 0 10.0 0a5.0 5.0 0 1 0 -10.0 0M631.8 1151.9m-5.0 0a5.0 5.0 0 1 0 10.0 0a5.0 5.0 0 1 0 -10.0 0M634.3 1182.2m-5.0 0a5.0 5.0 0 1 0 10.0 0a5.0 5.0 0 1 0 -10.0 0M636.8 1212.4m-5.0 0a5.0 5.0 0 1 0 10.0 0a5.0 5.0 0 1 0 -10.0 0M639.2 1242.6m-5.0 0a5.0 5.0 0 1 0 10.0 0a5.0 5.0 0 1 0 -10.0 0M583.8 205.9L555.9 224.1M561.1 220.7L555.7 216.2M586.6 238.5L565.7 264.5M569.6 259.7L563.1 257.1M589.3 271.1L573.9 300.6M576.8 295.1L569.9 293.8M592.1 303.5L587.0 336.5M588.0 330.3L581.1 331.3M594.8 335.9L604.5 367.8M602.7 361.8L596.9 365.7M597.6 368.2L612.4 398.0M609.6 392.4L604.6 397.3M600.3 400.4L617.6 428.9M614.3 423.5L609.7 428.8M603.0 432.5L625.0 457.5M620.9 452.8L617.2 458.8M605.7 464.5L631.2 485.9M626.5 481.9L623.8 488.4M608.4 496.5L637.7 512.4M632.2 509.4L630.8 516.3M611.1 528.3L641.0 543.1M635.4 540.3L634.3 547.2M613.8 560.1L644.4 573.3M638.7 570.8L637.9 577.7M619.1 623.4L651.8 617.1M645.7 618.3L649.0 624.4M621.7 655.0L654.6 649.5M648.4 650.5L651.6 656.8M624.3 686.4L655.1 673.5M649.3 675.9L653.8 681.3M627.0 717.8L659.1 708.8M653.0 710.5L656.8 716.4M629.6 749.1L625.2 716.1M626.0 722.3L632.4 719.3M632.1 780.3L628.2 747.2M629.0 753.5L635.3 750.6M634.7 811.5m-5.0 0a5.0 5.0 0 1 0 10.0 0a5.0 5.0 0 1 0 -10.0 0M637.3 842.6m-5.0 0a5.0 5.0 0 1 0 10.0 0a5.0 5.0 0 1 0 -10.0 0M639.8 873.6L672.7 868.2M666.6 869.2L669.7 875.5M642.4 904.5m-5.0 0a5.0 5.0 0 1 0 10.0 0a5.0 5.0 0 1 0 -10.0 0M644.9 935.4L676.4 924.7M670.5 926.7L674.6 932.3M647.4 966.2m-5.0 0a5.0 5.0 0 1 0 10.0 0a5.0 5.0 0 1 0 -10.0 0M649.9 996.9m-5.0 0a5.0 5.0 0 1 0 10.0 0a5.0 5.0 0 1 0 -10.0 0M652.3 1027.6m-5.0 0a5.0 5.0 0 1 0 10.0 0a5.0 5.0 0 1 0 -10.0 0M654.8 1058.1m-5.0 0a5.0 5.0 0 1 0 10.0 0a5.0 5.0 0 1 0 -10.0 0M657.2 1088.7m-5.0 0a5.0 5.0 0 1 0 10.0 0a5.0 5.0 0 1 0 -10.0 0M659.7 1119.1m-5.0 0a5.0 5.0 0 1 0 10.0 0a5.0 5.0 0 1 0 -10.0 0M662.1 1149.5m-5.0 0a5.0 5.0 0 1 0 10.0 0a5.0 5.0 0 1 0 -10.0 0M664.5 1179.8m-5.0 0a5.0 5.0 0 1 0 10.0 0a5.0 5.0 0 1 0 -10.0 0M666.9 1210.1m-5.0 0a5.0 5.0 0 1 0 10.0 0a5.0 5.0 0 1 0 -10.0 0M669.2 1240.2m-5.0 0a5.0 5.0 0 1 0 10.0 0a5.0 5.0 0 1 0 -10.0 0M614.3 170.4L584.6 185.4M590.2 182.6L585.3 177.5M617.0 203.1L588.0 219.4M593.4 216.4L588.3 211.6M619.7 235.8L592.8 255.5M597.9 251.8L592.2 247.7M622.3 268.3L603.4 295.7M606.9 290.6L600.3 288.5M625.0 300.8L623.5 334.1M623.8 327.8L617.0 329.6M627.6 333.2L635.0 365.7M633.6 359.6L627.5 363.1M630.3 365.5L642.1 396.6M639.9 390.8L634.4 395.1M632.9 397.7L649.4 426.6M646.3 421.2L641.6 426.3M635.5 429.8L654.3 457.3M650.8 452.1L646.5 457.6M638.1 461.8L663.7 483.2M658.9 479.2L656.2 485.6M640.7 493.8L671.7 506.0M665.9 503.7L665.4 510.7M643.3 525.7L674.7 536.6M668.8 534.6L668.6 541.6M645.8 557.5L678.2 565.4M672.1 563.9L672.6 570.9M648.4 589.2L674.0 610.5M669.2 606.5L666.5 613.0M650.9 620.8m-5.0 0a5.0 5.0 0 1 0 10.0 0a5.0 5.0 0 1 0 -10.0 0M653.5 652.4m-5.0 0a5.0 5.0 0 1 0 10.0 0a5.0 5.0 0 1 0 -10.0 0M658.5 715.3m-5.0 0a5.0 5.0 0 1 0 10.0 0a5.0 5.0 0 1 0 -10.0 0M661.0 746.6L693.8 740.3M687.6 741.5L690.9 747.7M663.5 777.8L686.1 753.3M681.8 757.9L688.2 760.9M666.0 809.0L689.6 785.4M685.1 789.8L691.3 793.1M668.5 840.1m-5.0 0a5.0 5.0 0 1 0 10.0 0a5.0 5.0 0 1 0 -10.0 0M670.9 871.1m-5.0 0a5.0 5.0 0 1 0 10.0 0a5.0 5.0 0 1 0 -10.0 0M673.3 902.1m-5.0 0a5.0 5.0 0 1 0 10.0 0a5.0 5.0 0 1 0 -10.0 0M675.8 933.0L705.5 917.8M699.9 920.7L704.8 925.7M680.6 994.5L710.0 978.9M704.5 981.8L709.5 986.7M683.0 1025.2m-5.0 0a5.0 5.0 0 1 0 10.0 0a5.0 5.0 0 1 0 -10.0 0M685.3 1055.8m-5.0 0a5.0 5.0 0 1 0 10.0 0a5.0 5.0 0 1 0 -10.0 0M687.7 1086.3m-5.0 0a5.0 5.0 0 1 0 10.0 0a5.0 5.0 0 1 0 -10.0 0M690.0 1116.8m-5.0 0a5.0 5.0 0 1 0 10.0 0a5.0 5.0 0 1 0 -10.0 0M692.3 1147.2m-5.0 0a5.0 5.0 0 1 0 10.0 0a5.0 5.0 0 1 0 -10.0 0M694.7 1177.5m-5.0 0a5.0 5.0 0 1 0 10.0 0a5.0 5.0 0 1 0 -10.0 0M696.9 1207.8m-5.0 0a5.0 5.0 0 1 0 10.0 0a5.0 5.0 0 1 0 -10.0 0M699.2 1238.0m-5.0 0a5.0 5.0 0 1 0 10.0 0a5.0 5.0 0 1 0 -10.0 0M647.7 167.7m-5.0 0a5.0 5.0 0 1 0 10.0 0a5.0 5.0 0 1 0 -10.0 0M650.3 200.4L621.3 217.0M626.7 213.9L621.6 209.1M652.8 233.1L627.1 254.3M631.9 250.4L626.1 246.6M655.3 265.7L643.8 297.0M646.0 291.1L639.0 290.7M657.9 298.2L659.4 331.5M659.1 325.2L652.6 327.6M660.4 330.5L669.4 362.6M667.8 356.6L661.9 360.4M662.9 362.9L670.9 395.2M669.4 389.1L663.5 392.8M665.5 395.1L682.4 423.8M679.3 418.4L674.6 423.6M668.0 427.2L687.3 454.3M683.7 449.3L679.5 454.8M670.5 459.3L696.0 480.7M691.2 476.7L688.5 483.1M672.9 491.2L702.8 506.0M697.2 503.2L696.2 510.1M675.4 523.1L705.7 537.1M700.0 534.5L699.1 541.4M677.9 554.9L706.7 571.7M701.3 568.5L699.8 575.3M680.4 586.7L711.8 597.6M705.9 595.6L705.7 602.6M682.8 618.3m-5.0 0a5.0 5.0 0 1 0 10.0 0a5.0 5.0 0 1 0 -10.0 0M685.2 649.9L667.2 677.9M670.6 672.7L663.8 670.8M687.7 681.4L668.0 708.3M671.7 703.3L665.1 701.0M690.1 712.8L722.8 706.6M716.7 707.7L720.0 713.9M692.5 744.1m-5.0 0a5.0 5.0 0 1 0 10.0 0a5.0 5.0 0 1 0 -10.0 0M694.9 775.4L698.7 742.3M698.0 748.5L704.9 747.2M697.3 806.6m-5.0 0a5.0 5.0 0 1 0 10.0 0a5.0 5.0 0 1 0 -10.0 0M699.6 837.7L671.0 820.7M676.3 823.9L677.9 817.1M702.0 868.8L718.5 839.8M715.4 845.2L722.3 846.7M704.3 899.7L733.0 882.8M733.0 882.8L743.4 892.1M706.7 930.6m-5.0 0a5.0 5.0 0 1 0 10.0 0a5.0 5.0 0 1 0 -10.0 0M709.0 961.4L733.6 939.0M729.0 943.2L735.0 946.7M711.3 992.2L738.6 973.1M733.5 976.7L739.0 980.9M715.9 1053.5m-5.0 0a5.0 5.0 0 1 0 10.0 0a5.0 5.0 0 1 0 -10.0 0M718.1 1084.1m-5.0 0a5.0 5.0 0 1 0 10.0 0a5.0 5.0 0 1 0 -10.0 0M720.4 1114.6m-5.0 0a5.0 5.0 0 1 0 10.0 0a5.0 5.0 0 1 0 -10.0 0M722.6 1145.0m-5.0 0a5.0 5.0 0 1 0 10.0 0a5.0 5.0 0 1 0 -10.0 0M724.9 1175.3L755.1 1161.4M749.5 1164.0L754.1 1169.2M727.1 1205.6m-5.0 0a5.0 5.0 0 1 0 10.0 0a5.0 5.0 0 1 0 -10.0 0M729.3 1235.8m-5.0 0a5.0 5.0 0 1 0 10.0 0a5.0 5.0 0 1 0 -10.0 0M681.0 165.1m-5.0 0a5.0 5.0 0 1 0 10.0 0a5.0 5.0 0 1 0 -10.0 0M683.5 197.9L654.8 214.8M660.1 211.6L655.0 206.9M685.9 230.6L658.5 249.5M663.7 246.0L658.2 241.7M688.4 263.1L673.0 292.7M675.8 287.2L669.0 285.9M690.8 295.6L683.4 328.1M684.8 322.0L677.8 322.6M693.2 328.0L698.7 360.9M697.7 354.8L691.4 357.9M695.6 360.4L704.0 392.6M702.4 386.6L696.5 390.3M698.1 392.6L716.1 420.6M712.7 415.4L708.2 420.7M700.5 424.7L724.1 448.2M719.7 443.8L716.5 450.0M702.8 456.8L729.5 476.8M724.5 473.0L722.2 479.6M705.2 488.8L736.0 501.6M730.2 499.2L729.6 506.1M707.6 520.7L737.4 535.7M731.8 532.9L730.7 539.8M710.0 552.5L739.9 567.3M734.3 564.5L733.2 571.4M712.3 584.3L745.1 590.6M738.9 589.4L739.7 596.4M714.7 615.9L744.2 631.5M738.6 628.5L737.4 635.4M719.4 679.0m-5.0 0a5.0 5.0 0 1 0 10.0 0a5.0 5.0 0 1 0 -10.0 0M721.7 710.4m-5.0 0a5.0 5.0 0 1 0 10.0 0a5.0 5.0 0 1 0 -10.0 0M724.0 741.8m-5.0 0a5.0 5.0 0 1 0 10.0 0a5.0 5.0 0 1 0 -10.0 0M726.3 773.1L735.3 741.0M733.6 747.0L740.6 746.8M728.6 804.3m-5.0 0a5.0 5.0 0 1 0 10.0 0a5.0 5.0 0 1 0 -10.0 0M730.8 835.4m-5.0 0a5.0 5.0 0 1 0 10.0 0a5.0 5.0 0 1 0 -10.0 0M733.1 866.5m-5.0 0a5.0 5.0 0 1 0 10.0 0a5.0 5.0 0 1 0 -10.0 0M735.4 897.5m-5.0 0a5.0 5.0 0 1 0 10.0 0a5.0 5.0 0 1 0 -10.0 0M737.6 928.4L756.9 901.2M753.3 906.3L759.9 908.4M739.8 959.2L760.0 932.7M756.2 937.7L762.8 940.0M742.0 990.0L767.0 967.9M762.4 972.1L768.3 975.7M744.2 1020.7L767.8 997.1M763.4 1001.5L769.6 1004.8M746.4 1051.3L775.7 1035.4M770.2 1038.4L775.3 1043.3M748.6 1081.9L775.9 1062.7M770.8 1066.3L776.3 1070.6M750.8 1112.4m-5.0 0a5.0 5.0 0 1 0 10.0 0a5.0 5.0 0 1 0 -10.0 0M752.9 1142.8m-5.0 0a5.0 5.0 0 1 0 10.0 0a5.0 5.0 0 1 0 -10.0 0M755.1 1173.2m-5.0 0a5.0 5.0 0 1 0 10.0 0a5.0 5.0 0 1 0 -10.0 0M757.2 1203.5L775.2 1175.5M771.8 1180.7L778.6 1182.6M759.3 1233.8L772.4 1203.1M769.9 1208.9L776.9 1209.6M761.4 1263.9m-5.0 0a5.0 5.0 0 1 0 10.0 0a5.0 5.0 0 1 0 -10.0 0M714.4 162.7m-5.0 0a5.0 5.0 0 1 0 10.0 0a5.0 5.0 0 1 0 -10.0 0M716.7 195.5L690.8 216.4M695.6 212.4L689.8 208.6M719.1 228.1L692.1 247.7M697.1 244.0L691.5 239.9M721.4 260.7L702.9 288.4M706.3 283.2L699.6 281.3M723.7 293.2L717.8 326.0M718.9 319.9L712.0 320.8M726.0 325.6L720.7 358.6M721.7 352.4L714.8 353.4M728.4 358.0L741.3 388.7M738.9 382.9L733.5 387.4M730.7 390.2L747.5 419.0M744.3 413.6L739.6 418.8M733.0 422.4L755.6 446.8M751.4 442.2L747.9 448.3M735.2 454.5L762.3 473.9M757.2 470.2L755.1 476.9M737.5 486.5L768.2 499.5M762.4 497.1L761.7 504.0M739.8 518.4L769.0 534.4M763.5 531.4L762.2 538.2M742.1 550.2L771.3 566.2M765.8 563.2L764.5 570.0M744.3 582.0L773.2 598.7M767.8 595.5L766.2 602.3M746.6 613.6L779.0 621.3M772.9 619.9L773.4 626.8M748.8 645.2L781.0 653.8M775.0 652.2L775.3 659.2M751.0 676.8m-5.0 0a5.0 5.0 0 1 0 10.0 0a5.0 5.0 0 1 0 -10.0 0M753.3 708.2L784.5 719.7M778.7 717.6L778.3 724.5M755.5 739.6m-5.0 0a5.0 5.0 0 1 0 10.0 0a5.0 5.0 0 1 0 -10.0 0M757.7 770.9m-5.0 0a5.0 5.0 0 1 0 10.0 0a5.0 5.0 0 1 0 -10.0 0M759.9 802.1m-5.0 0a5.0 5.0 0 1 0 10.0 0a5.0 5.0 0 1 0 -10.0 0M762.1 833.2L783.3 807.5M779.3 812.3L785.8 815.0M764.2 864.3L755.2 832.2M756.9 838.2L762.8 834.4M766.4 895.3L771.5 862.4M770.5 868.5L777.4 867.5M768.5 926.2L762.0 893.5M763.2 899.7L769.3 896.3M770.7 957.1m-5.0 0a5.0 5.0 0 1 0 10.0 0a5.0 5.0 0 1 0 -10.0 0M772.8 987.9L797.1 965.0M792.5 969.3L798.6 972.7M774.9 1018.6L796.4 993.1M792.3 997.9L798.8 1000.6M779.1 1079.8m-5.0 0a5.0 5.0 0 1 0 10.0 0a5.0 5.0 0 1 0 -10.0 0M781.2 1110.4m-5.0 0a5.0 5.0 0 1 0 10.0 0a5.0 5.0 0 1 0 -10.0 0M783.2 1140.8m-5.0 0a5.0 5.0 0 1 0 10.0 0a5.0 5.0 0 1 0 -10.0 0M785.3 1171.2m-5.0 0a5.0 5.0 0 1 0 10.0 0a5.0 5.0 0 1 0 -10.0 0M787.3 1201.5m-5.0 0a5.0 5.0 0 1 0 10.0 0a5.0 5.0 0 1 0 -10.0 0M789.4 1231.8m-5.0 0a5.0 5.0 0 1 0 10.0 0a5.0 5.0 0 1 0 -10.0 0M791.4 1262.0m-5.0 0a5.0 5.0 0 1 0 10.0 0a5.0 5.0 0 1 0 -10.0 0M750.0 193.1m-5.0 0a5.0 5.0 0 1 0 10.0 0a5.0 5.0 0 1 0 -10.0 0M752.2 225.8L734.0 253.8M737.4 248.5L730.7 246.6M754.4 258.4L750.3 291.5M751.0 285.3L744.2 286.5M756.7 290.9L736.4 317.4M740.2 312.4L733.6 310.0M758.9 323.4L747.5 354.7M749.6 348.8L742.7 348.5M761.1 355.7L766.0 388.7M765.1 382.5L758.8 385.5M763.3 388.0L776.7 418.5M774.2 412.7L768.9 417.3M765.5 420.1L790.5 442.1M785.8 438.0L783.0 444.4M767.6 452.2L795.8 470.1M790.5 466.7L788.7 473.5M769.8 484.2L798.4 501.4M793.0 498.2L791.4 504.9M772.0 516.1L802.1 530.5M796.5 527.8L795.5 534.7M774.2 548.0L803.4 563.9M797.9 560.9L796.6 567.8M776.3 579.8L808.5 588.6M802.4 586.9L802.7 593.9M778.5 611.4L810.9 619.1M804.8 617.7L805.3 624.6M780.6 643.1L813.7 647.5M807.5 646.6L808.6 653.5M782.7 674.6L815.4 681.5M809.2 680.2L809.9 687.2M784.9 706.0m-5.0 0a5.0 5.0 0 1 0 10.0 0a5.0 5.0 0 1 0 -10.0 0M787.0 737.4m-5.0 0a5.0 5.0 0 1 0 10.0 0a5.0 5.0 0 1 0 -10.0 0M789.1 768.7m-5.0 0a5.0 5.0 0 1 0 10.0 0a5.0 5.0 0 1 0 -10.0 0M791.2 800.0L780.4 768.4M782.4 774.4L788.0 770.2M793.3 831.1L775.3 803.1M778.6 808.3L783.1 803.0M795.4 862.2m-5.0 0a5.0 5.0 0 1 0 10.0 0a5.0 5.0 0 1 0 -10.0 0M797.4 893.2m-5.0 0a5.0 5.0 0 1 0 10.0 0a5.0 5.0 0 1 0 -10.0 0M799.5 924.2m-5.0 0a5.0 5.0 0 1 0 10.0 0a5.0 5.0 0 1 0 -10.0 0M801.5 955.0m-5.0 0a5.0 5.0 0 1 0 10.0 0a5.0 5.0 0 1 0 -10.0 0M803.6 985.8L830.4 966.0M825.3 969.7L831.0 973.9M805.6 1016.6L826.5 990.7M822.6 995.5L829.1 998.1M807.6 1047.3L826.0 1019.5M822.6 1024.7L829.3 1026.6M809.6 1077.9m-5.0 0a5.0 5.0 0 1 0 10.0 0a5.0 5.0 0 1 0 -10.0 0M811.6 1108.4L828.5 1079.6M825.3 1085.0L832.1 1086.6M813.6 1138.9L829.0 1109.3M826.1 1114.9L833.0 1116.1M815.5 1169.3m-5.0 0a5.0 5.0 0 1 0 10.0 0a5.0 5.0 0 1 0 -10.0 0M817.5 1199.6m-5.0 0a5.0 5.0 0 1 0 10.0 0a5.0 5.0 0 1 0 -10.0 0M819.4 1229.9m-5.0 0a5.0 5.0 0 1 0 10.0 0a5.0 5.0 0 1 0 -10.0 0M821.4 1260.1m-5.0 0a5.0 5.0 0 1 0 10.0 0a5.0 5.0 0 1 0 -10.0 0M781.1 158.2L768.7 189.1M771.0 183.3L764.1 182.7M783.3 190.9L801.8 218.6M798.4 213.4L794.0 218.9M791.7 321.2L784.0 353.6M785.5 347.5L778.5 348.0M793.8 353.5L827.1 355.7M820.8 355.3L822.5 362.1M795.9 385.8L822.3 406.1M822.3 406.1L817.5 419.2M798.0 418.0L827.3 433.8M821.8 430.8L820.5 437.7M800.1 450.1L827.1 469.6M822.0 465.9L819.8 472.6M802.1 482.1L827.2 504.1M822.5 500.0L819.6 506.4M804.2 514.0L832.3 531.9M827.1 528.6L825.2 535.3M806.3 545.9L837.1 558.6M831.3 556.2L830.7 563.2M808.3 577.7L839.6 589.2M833.7 587.0L833.4 594.0M810.4 609.4L843.2 615.1M837.1 614.0L837.9 621.0M812.4 641.0L845.7 639.1M839.5 639.5L841.9 646.0M814.5 672.5L847.8 672.1M841.5 672.2L843.7 678.8M816.5 704.0L849.4 699.0M843.3 699.9L846.3 706.2M818.5 735.4L848.2 720.2M842.6 723.1L847.5 728.1M820.5 766.7L848.3 748.4M843.1 751.8L848.5 756.2M822.5 797.9L843.5 772.0M839.5 776.9L846.0 779.4M824.5 829.1L846.0 803.7M842.0 808.4L848.4 811.2M826.5 860.2L846.2 833.3M842.5 838.4L849.1 840.6M828.5 891.3L845.8 862.8M842.5 868.1L849.3 869.8M830.4 922.2m-5.0 0a5.0 5.0 0 1 0 10.0 0a5.0 5.0 0 1 0 -10.0 0M832.4 953.1m-5.0 0a5.0 5.0 0 1 0 10.0 0a5.0 5.0 0 1 0 -10.0 0M834.3 983.9m-5.0 0a5.0 5.0 0 1 0 10.0 0a5.0 5.0 0 1 0 -10.0 0M838.2 1045.4L855.1 1016.6M851.9 1022.0L858.7 1023.6M840.1 1076.0L854.1 1045.7M851.5 1051.4L858.4 1052.3M842.0 1106.5L856.7 1076.6M853.9 1082.2L860.8 1083.2M843.9 1137.0L859.9 1107.7M856.9 1113.2L863.7 1114.6M845.8 1167.4L858.2 1136.5M855.9 1142.3L862.8 1142.8M847.7 1197.8m-5.0 0a5.0 5.0 0 1 0 10.0 0a5.0 5.0 0 1 0 -10.0 0M849.5 1228.1m-5.0 0a5.0 5.0 0 1 0 10.0 0a5.0 5.0 0 1 0 -10.0 0M851.4 1258.3m-5.0 0a5.0 5.0 0 1 0 10.0 0a5.0 5.0 0 1 0 -10.0 0M814.5 156.0L781.2 153.9M787.5 154.3L785.8 147.5M816.5 188.8L796.7 215.7M800.4 210.6L793.8 208.3M818.5 221.5L837.3 249.1M833.8 243.9L829.4 249.4M820.5 254.1L853.7 257.5M847.5 256.8L848.9 263.7M822.5 286.7L851.5 270.2M846.1 273.3L851.2 278.0M826.5 351.5L854.9 368.9M849.6 365.7L847.9 372.4M828.5 383.7L852.8 406.6M852.8 406.6L846.6 419.2M830.5 415.9L860.1 431.2M854.6 428.3L853.4 435.2M832.5 448.0L862.2 463.0M856.7 460.2L855.5 467.1M834.4 480.1L863.9 495.6M858.4 492.7L857.1 499.6M836.4 512.0L868.9 519.4M862.8 518.0L863.4 525.0M838.4 543.9L869.9 554.6M864.0 552.6L863.9 559.6M840.3 575.7L873.7 576.1M867.4 576.0L869.4 582.7M842.3 607.4L875.6 606.7M869.4 606.9L871.6 613.5M844.2 639.0L877.6 638.4M871.3 638.5L873.5 645.1M846.2 670.6L879.1 665.6M873.0 666.5L876.0 672.8M848.1 702.0L881.1 697.0M874.9 698.0L877.9 704.3M850.0 733.4L882.1 724.3M876.1 726.0L879.9 731.8M852.0 764.8L877.9 743.9M873.1 747.8L878.9 751.7M853.9 796.0L878.4 773.5M873.8 777.7L879.9 781.2M855.8 827.2L879.2 803.5M874.8 808.0L881.0 811.2M857.7 858.3L878.0 832.0M874.2 836.9L880.8 839.3M859.5 889.4L878.6 862.0M875.0 867.1L881.7 869.3M861.4 920.3L875.5 890.1M872.9 895.8L879.8 896.7M863.3 951.2L877.1 920.9M874.5 926.6L881.4 927.5M865.1 982.1L880.1 952.3M877.3 957.9L884.2 959.0M867.0 1012.8L883.3 983.8M880.2 989.2L887.1 990.7M870.6 1074.2L885.6 1044.4M882.8 1049.9L889.7 1051.1M872.5 1104.7L886.9 1074.7M884.2 1080.3L891.1 1081.3M874.3 1135.2L888.7 1105.2M886.0 1110.8L892.9 1111.8M876.1 1165.7L888.8 1134.9M886.4 1140.6L893.4 1141.3M877.8 1196.0m-5.0 0a5.0 5.0 0 1 0 10.0 0a5.0 5.0 0 1 0 -10.0 0M879.6 1226.3m-5.0 0a5.0 5.0 0 1 0 10.0 0a5.0 5.0 0 1 0 -10.0 0M881.4 1256.6m-5.0 0a5.0 5.0 0 1 0 10.0 0a5.0 5.0 0 1 0 -10.0 0M883.1 1286.8L888.9 1254.0M887.8 1260.1L894.8 1259.2M849.8 186.8m-5.0 0a5.0 5.0 0 1 0 10.0 0a5.0 5.0 0 1 0 -10.0 0M853.6 252.2m-5.0 0a5.0 5.0 0 1 0 10.0 0a5.0 5.0 0 1 0 -10.0 0M855.5 284.7m-5.0 0a5.0 5.0 0 1 0 10.0 0a5.0 5.0 0 1 0 -10.0 0M859.2 349.5L888.2 366.0M882.8 362.9L881.3 369.7M861.1 381.8L892.4 393.4M886.5 391.2L886.2 398.2M863.0 414.0L894.6 424.5M888.7 422.6L888.6 429.5M864.9 446.1L897.5 453.1M891.4 451.8L892.0 458.7M866.8 478.1L899.1 486.1M893.1 484.6L893.5 491.6M868.6 510.1L901.7 505.9M895.5 506.7L898.4 513.0M870.5 542.0L902.1 552.5M896.2 550.5L896.1 557.5M872.4 573.8L904.0 584.2M898.1 582.3L898.0 589.3M874.2 605.5L906.6 613.3M900.5 611.8L901.0 618.8M876.1 637.1L909.4 638.2M903.1 638.0L905.0 644.7M877.9 668.7L910.8 674.2M904.6 673.2L905.6 680.1M879.7 700.2L912.3 693.0M906.2 694.4L909.7 700.4M881.6 731.6L911.8 717.6M906.1 720.2L910.8 725.4M883.4 762.9L913.6 748.9M908.0 751.5L912.7 756.7M885.2 794.2L913.6 776.7M908.3 780.0L913.5 784.6M887.0 825.4L909.0 800.3M904.9 805.0L911.2 807.8M888.8 856.5L907.8 829.1M904.2 834.3L910.9 836.3M890.6 887.6L908.9 859.7M905.4 864.9L912.2 866.8M892.4 918.6L909.4 889.9M906.2 895.3L913.0 896.9M894.2 949.5L909.5 919.9M906.6 925.4L913.5 926.7M895.9 980.3L910.8 950.5M908.1 956.1L914.9 957.2M897.7 1011.1L914.8 982.5M911.6 987.9L918.4 989.5M899.4 1041.8m-5.0 0a5.0 5.0 0 1 0 10.0 0a5.0 5.0 0 1 0 -10.0 0M901.2 1072.5L916.1 1042.6M913.3 1048.2L920.2 1049.4M902.9 1103.0L920.4 1074.6M917.1 1080.0L923.9 1081.7M904.6 1133.6L917.8 1102.9M915.3 1108.7L922.3 1109.4M906.3 1164.0L918.2 1132.8M916.0 1138.7L922.9 1139.1M908.0 1194.4L919.9 1163.2M917.7 1169.1L924.6 1169.5M909.7 1224.7L919.6 1192.9M917.8 1198.8L924.7 1198.8M911.4 1255.0L919.0 1222.5M917.6 1228.6L924.5 1228.1M913.1 1285.2L917.5 1252.1M916.7 1258.3L923.5 1257.1M881.3 152.2L912.7 163.2M906.8 161.2L906.6 168.1M883.0 185.0L894.0 216.5M891.9 210.6L886.3 214.7M886.6 250.3L877.8 282.4M879.4 276.4L872.4 276.7M888.4 282.8L880.9 315.3M882.3 309.2L875.3 309.8M890.2 315.3m-5.0 0a5.0 5.0 0 1 0 10.0 0a5.0 5.0 0 1 0 -10.0 0M893.8 380.0L921.5 398.4M916.3 395.0L914.3 401.7M895.5 412.2L927.0 423.1M921.1 421.1L920.9 428.0M897.3 444.3L930.0 451.0M923.8 449.8L924.5 456.7M899.1 476.3L932.3 473.4M926.1 473.9L928.7 480.4M900.9 508.3L932.8 517.8M926.8 516.0L926.9 523.0M902.6 540.2L934.5 550.0M928.5 548.1L928.5 555.1M904.4 572.0L937.0 578.9M930.9 577.6L931.5 584.6M906.1 603.7L939.0 609.5M932.8 608.4L933.7 615.3M907.9 635.4L941.0 639.2M934.8 638.5L936.1 645.3M909.6 666.9L942.8 663.4M936.6 664.1L939.3 670.5M911.4 698.4L944.0 691.6M937.9 692.9L941.3 699.0M913.1 729.9L943.5 716.2M937.8 718.8L942.5 724.0M914.8 761.2L944.4 745.9M938.9 748.7L943.8 753.7M916.6 792.5L944.0 773.5M938.8 777.1L944.3 781.4M918.3 823.7L938.5 797.1M934.7 802.1L941.2 804.5M920.0 854.8L940.2 828.3M936.4 833.3L942.9 835.6M921.7 885.9L937.9 856.8M934.8 862.2L941.7 863.6M923.4 916.9L944.7 891.3M940.7 896.1L947.2 898.7M925.1 947.8L940.8 918.4M937.9 923.9L944.7 925.2M926.8 978.7L940.4 948.3M937.8 954.0L944.8 954.8M928.4 1009.5L942.4 979.2M939.8 984.9L946.7 985.8M930.1 1040.2L944.1 1009.9M941.5 1015.6L948.4 1016.5M931.7 1070.8L944.9 1040.2M942.4 1045.9L949.4 1046.7M933.4 1101.4L947.0 1071.0M944.5 1076.7L951.4 1077.5M935.0 1132.0L949.1 1101.7M946.4 1107.4L953.3 1108.3M936.6 1162.4L947.2 1130.8M945.2 1136.7L952.2 1136.9M938.3 1192.8L947.8 1160.9M946.0 1166.9L953.0 1166.8M939.9 1223.2L949.4 1191.2M947.6 1197.2L954.6 1197.1M941.5 1253.4L952.3 1221.9M950.3 1227.8L957.3 1228.0M943.0 1283.7L947.4 1250.6M946.6 1256.8L953.5 1255.6M914.6 150.4L947.0 158.5M940.9 157.0L941.3 163.9M916.3 183.2L936.9 209.4M933.0 204.5L929.1 210.3M918.0 215.9L919.1 249.2M918.9 243.0L912.3 245.3M919.7 248.6L920.8 281.9M920.6 275.6L914.0 277.9M921.4 281.1m-5.0 0a5.0 5.0 0 1 0 10.0 0a5.0 5.0 0 1 0 -10.0 0M923.0 313.6m-5.0 0a5.0 5.0 0 1 0 10.0 0a5.0 5.0 0 1 0 -10.0 0M924.7 345.9m-5.0 0a5.0 5.0 0 1 0 10.0 0a5.0 5.0 0 1 0 -10.0 0M926.4 378.2L956.6 392.4M950.9 389.7L950.0 396.6M928.1 410.4L959.9 420.4M953.9 418.5L953.9 425.5M929.8 442.6L962.6 448.4M956.4 447.3L957.3 454.2M931.4 474.6L963.3 484.4M957.3 482.6L957.3 489.6M933.1 506.6L965.5 514.5M959.4 513.0L959.9 520.0M934.8 538.5L968.1 537.4M961.8 537.6L964.1 544.2M936.4 570.3L969.2 576.1M963.1 575.0L964.0 581.9M938.1 602.0L970.9 607.8M964.7 606.7L965.6 613.7M939.7 633.7L973.0 631.2M966.7 631.7L969.3 638.2M941.4 665.3L973.5 674.1M967.5 672.5L967.7 679.4M943.0 696.8L975.8 690.8M969.7 691.9L972.9 698.1M944.7 728.2L975.1 714.6M969.4 717.1L974.0 722.4M946.3 759.6L975.4 743.4M970.0 746.4L975.0 751.2M947.9 790.9L973.5 769.4M968.7 773.4L974.6 777.2M949.6 822.1L972.6 798.0M968.3 802.5L974.5 805.6M951.2 853.2L973.1 828.1M969.0 832.8L975.4 835.7M952.8 884.3L967.7 854.5M964.9 860.1L971.8 861.2M954.4 915.3L966.2 884.1M964.0 890.0L971.0 890.4M956.0 946.2L969.6 915.8M967.1 921.5L974.0 922.3M957.6 977.1L972.1 947.1M969.3 952.7L976.3 953.7M959.2 1007.9L975.4 978.8M972.4 984.3L979.2 985.7M960.7 1038.6L975.6 1008.8M972.8 1014.4L979.7 1015.5M962.3 1069.3L975.9 1038.9M973.4 1044.6L980.3 1045.4M963.9 1099.9L976.6 1069.1M974.2 1074.9L981.2 1075.5M965.4 1130.5L977.2 1099.3M975.0 1105.1L982.0 1105.5M966.9 1160.9L977.5 1129.3M975.5 1135.2L982.5 1135.4M968.5 1191.3L977.8 1159.3M976.0 1165.3L983.0 1165.2M970.0 1221.7L977.3 1189.2M976.0 1195.3L982.9 1194.7M971.5 1252.0m-5.0 0a5.0 5.0 0 1 0 10.0 0a5.0 5.0 0 1 0 -10.0 0M948.0 148.8L980.0 158.1M974.0 156.4L974.1 163.4M949.6 181.6m-5.0 0a5.0 5.0 0 1 0 10.0 0a5.0 5.0 0 1 0 -10.0 0M951.2 214.3L939.1 245.3M941.4 239.5L934.4 239.1M952.7 246.9L944.5 279.2M946.0 273.1L939.0 273.5M954.3 279.5L952.1 312.7M952.5 306.5L945.7 308.1M955.9 311.9m-5.0 0a5.0 5.0 0 1 0 10.0 0a5.0 5.0 0 1 0 -10.0 0M957.5 344.3m-5.0 0a5.0 5.0 0 1 0 10.0 0a5.0 5.0 0 1 0 -10.0 0M959.0 376.6m-5.0 0a5.0 5.0 0 1 0 10.0 0a5.0 5.0 0 1 0 -10.0 0M960.6 408.8L989.6 425.2M984.2 422.2L982.7 429.0M962.2 440.9L995.5 441.4M989.3 441.3L991.3 448.0M963.8 473.0L996.6 478.8M990.4 477.7L991.3 484.6M965.3 505.0L998.6 506.4M992.4 506.1L994.2 512.9M966.9 536.9L1000.2 534.8M993.9 535.2L996.4 541.7M968.5 568.7L1001.2 574.7M995.1 573.5L996.0 580.5M970.0 600.4L1003.3 602.3M997.1 601.9L998.8 608.7M971.6 632.1L1003.8 640.6M997.8 639.0L998.1 646.0M973.1 663.7L1006.4 665.1M1000.2 664.9L1002.0 671.6M974.7 695.2L1007.6 690.0M1001.4 691.0L1004.5 697.2M976.2 726.6L1006.2 712.2M1000.6 714.9L1005.4 720.0M977.8 758.0L1006.2 740.5M1000.8 743.8L1006.1 748.4M979.3 789.3L1005.0 768.1M1000.2 772.1L1006.0 775.9M980.8 820.5L1001.7 794.5M997.7 799.4L1004.3 801.9M982.4 851.7L1003.2 825.7M999.3 830.5L1005.8 833.1M983.9 882.8L1012.9 866.4M1007.5 869.5L1012.5 874.2M985.4 913.8L1002.9 885.4M999.6 890.7L1006.4 892.5M986.9 944.7L1006.4 917.7M1002.7 922.8L1009.4 925.0M988.4 975.6L1005.5 947.0M1002.3 952.4L1009.1 954.0M989.9 1006.4L1008.4 978.7M1004.9 983.9L1011.6 985.9M991.4 1037.2L1008.0 1008.3M1004.9 1013.7L1011.7 1015.3M992.9 1067.9L1006.5 1037.5M1003.9 1043.2L1010.9 1044.0M994.3 1098.5L1007.1 1067.7M1004.7 1073.5L1011.6 1074.1M995.8 1129.0L1006.3 1097.4M1004.4 1103.3L1011.3 1103.5M997.3 1159.5L1006.8 1127.6M1005.0 1133.6L1012.0 1133.5M998.7 1190.0L1002.8 1156.9M1002.1 1163.1L1008.9 1161.8M1000.1 1220.3L1001.2 1187.0M1001.0 1193.2L1007.7 1191.4M1001.6 1250.6m-5.0 0a5.0 5.0 0 1 0 10.0 0a5.0 5.0 0 1 0 -10.0 0M1003.0 1280.9L1000.6 1247.6M1001.0 1253.8L1007.5 1251.3M982.9 180.0m-5.0 0a5.0 5.0 0 1 0 10.0 0a5.0 5.0 0 1 0 -10.0 0M984.3 212.7m-5.0 0a5.0 5.0 0 1 0 10.0 0a5.0 5.0 0 1 0 -10.0 0M985.8 245.4m-5.0 0a5.0 5.0 0 1 0 10.0 0a5.0 5.0 0 1 0 -10.0 0M987.3 277.9m-5.0 0a5.0 5.0 0 1 0 10.0 0a5.0 5.0 0 1 0 -10.0 0M988.7 310.4m-5.0 0a5.0 5.0 0 1 0 10.0 0a5.0 5.0 0 1 0 -10.0 0M990.2 342.8m-5.0 0a5.0 5.0 0 1 0 10.0 0a5.0 5.0 0 1 0 -10.0 0M993.2 407.3m-5.0 0a5.0 5.0 0 1 0 10.0 0a5.0 5.0 0 1 0 -10.0 0M994.6 439.4L1027.2 446.7M1027.2 446.7L1028.3 460.6M996.1 471.5L1029.2 468.0M1029.2 468.0L1034.8 480.8M997.6 503.5L1030.8 500.4M1024.5 500.9L1027.2 507.4M999.0 535.4L1032.0 540.6M1025.8 539.6L1026.8 546.5M1000.5 567.2L1033.7 564.7M1027.5 565.1L1030.1 571.6M1002.0 598.9L1035.2 596.5M1029.0 596.9L1031.5 603.4M1003.4 630.6L1036.7 629.2M1030.5 629.4L1032.9 636.0M1004.9 662.2L1037.8 667.7M1031.6 666.7L1032.6 673.6M1006.3 693.7L1036.2 679.0M1030.6 681.8L1035.4 686.8M1007.8 725.2L1038.6 712.4M1032.8 714.8L1037.3 720.2M1009.2 756.6L1039.6 742.9M1033.9 745.5L1038.6 750.7M1010.7 787.9L1033.7 763.8M1029.4 768.3L1035.7 771.4M1012.1 819.1L1032.9 793.1M1029.0 798.0L1035.5 800.5M1013.5 850.3L1033.2 823.4M1029.5 828.4L1036.1 830.7M1015.0 881.4L1025.8 849.9M1023.8 855.8L1030.8 856.0M1016.4 912.4L1029.1 881.6M1026.8 887.4L1033.7 888.0M1017.8 943.4L1036.1 915.5M1032.6 920.7L1039.4 922.6M1019.2 974.2L1038.9 947.3M1035.2 952.4L1041.8 954.6M1020.6 1005.1L1039.1 977.3M1035.7 982.5L1042.4 984.5M1022.0 1035.8L1041.5 1008.8M1037.9 1013.8L1044.5 1016.0M1023.4 1066.5L1041.2 1038.3M1037.9 1043.6L1044.6 1045.4M1024.8 1097.1L1035.4 1065.5M1033.4 1071.4L1040.4 1071.6M1026.2 1127.7L1037.7 1096.4M1035.5 1102.3L1042.5 1102.6M1027.6 1158.2L1032.9 1125.3M1031.9 1131.5L1038.8 1130.5M1028.9 1188.6L1033.2 1155.6M1032.4 1161.8L1039.3 1160.6M1030.3 1219.0L1030.3 1185.7M1030.3 1191.9L1037.0 1189.9M1031.6 1249.3L1027.5 1216.3M1028.3 1222.5L1034.6 1219.6M1033.0 1279.6L1029.8 1246.4M1030.4 1252.6L1036.8 1249.9M1014.8 145.8L1038.9 168.7M1034.4 164.4L1031.3 170.7M1016.1 178.6m-5.0 0a5.0 5.0 0 1 0 10.0 0a5.0 5.0 0 1 0 -10.0 0M1017.5 211.3m-5.0 0a5.0 5.0 0 1 0 10.0 0a5.0 5.0 0 1 0 -10.0 0M1018.9 243.9m-5.0 0a5.0 5.0 0 1 0 10.0 0a5.0 5.0 0 1 0 -10.0 0M1020.2 276.5m-5.0 0a5.0 5.0 0 1 0 10.0 0a5.0 5.0 0 1 0 -10.0 0M1021.6 309.0L1050.2 326.1M1044.8 322.9L1043.2 329.7M1023.0 341.3m-5.0 0a5.0 5.0 0 1 0 10.0 0a5.0 5.0 0 1 0 -10.0 0M1025.7 405.9L1059.0 404.2M1059.0 404.2L1063.8 417.3M1027.1 438.0L1060.3 435.5M1060.3 435.5L1065.5 448.5M1028.4 470.1L1061.8 470.1M1055.5 470.1L1057.6 476.8M1029.8 502.1L1063.1 501.0M1056.9 501.2L1059.2 507.8M1031.2 534.0L1064.4 531.4M1058.2 531.9L1060.8 538.4M1032.5 565.8L1065.8 563.7M1065.8 563.7L1070.8 576.7M1033.9 597.6L1067.2 595.5M1060.9 595.9L1063.4 602.4M1035.3 629.2L1068.5 626.8M1062.3 627.2L1064.9 633.7M1036.6 660.8L1069.4 654.6M1063.2 655.8L1066.5 661.9M1038.0 692.4L1070.1 683.5M1064.1 685.2L1067.9 691.1M1039.4 723.8L1069.4 709.3M1063.7 712.1L1068.5 717.2M1040.7 755.2L1068.4 736.7M1063.2 740.2L1068.7 744.6M1042.1 786.5L1066.6 764.0M1062.0 768.2L1068.1 771.7M1043.4 817.8L1065.4 792.7M1061.2 797.4L1067.6 800.2M1044.7 848.9L1068.8 825.9M1064.3 830.2L1070.4 833.6M1046.1 880.1L1066.4 853.6M1062.6 858.6L1069.2 861.0M1047.4 911.1L1061.1 880.7M1058.5 886.4L1065.4 887.2M1048.8 942.1L1059.3 910.4M1057.3 916.4L1064.3 916.5M1050.1 972.9L1076.2 952.3M1071.3 956.1L1077.1 960.1M1051.4 1003.8L1073.8 979.1M1069.6 983.7L1075.9 986.7M1052.7 1034.5L1067.6 1004.7M1064.8 1010.3L1071.7 1011.4M1054.0 1065.2L1067.7 1034.8M1065.1 1040.5L1072.0 1041.4M1055.3 1095.9L1068.1 1065.1M1065.7 1070.9L1072.6 1071.5M1056.6 1126.5L1061.8 1093.5M1060.8 1099.7L1067.7 1098.7M1057.9 1157.0L1060.1 1123.7M1059.7 1129.9L1066.4 1128.3M1059.2 1187.4L1057.0 1154.2M1057.4 1160.4L1064.0 1157.9M1060.5 1217.8L1054.3 1185.0M1055.5 1191.2L1061.6 1187.9M1061.7 1248.1L1057.6 1215.1M1058.4 1221.3L1064.7 1218.4M1063.0 1278.4L1060.9 1245.1M1061.3 1251.4L1067.8 1248.9M1049.4 177.3L1080.2 164.5M1074.4 166.9L1078.9 172.3M1050.7 210.0m-5.0 0a5.0 5.0 0 1 0 10.0 0a5.0 5.0 0 1 0 -10.0 0M1051.9 242.6L1085.2 244.8M1078.9 244.4L1080.6 251.2M1053.2 275.2m-5.0 0a5.0 5.0 0 1 0 10.0 0a5.0 5.0 0 1 0 -10.0 0M1054.4 307.6L1084.0 323.1M1078.4 320.2L1077.2 327.1M1057.0 372.3L1090.2 369.6M1090.2 369.6L1095.5 382.5M1058.2 404.6L1091.5 402.4M1091.5 402.4L1096.5 415.5M1059.5 436.7L1092.8 434.6M1092.8 434.6L1097.8 447.7M1060.8 468.8L1094.0 466.7M1094.0 466.7L1099.0 479.7M1062.0 500.8L1095.3 499.3M1089.1 499.6L1091.5 506.1M1063.3 532.7L1096.6 530.6M1090.3 531.0L1092.8 537.5M1064.6 564.5L1097.8 561.9M1091.6 562.4L1094.2 568.9M1065.9 596.3L1098.7 590.4M1092.5 591.5L1095.7 597.7M1067.1 628.0L1100.3 624.9M1094.1 625.5L1096.8 631.9M1068.4 659.6L1100.8 652.0M1094.8 653.4L1098.3 659.4M1069.7 691.1L1100.4 678.2M1094.6 680.6L1099.1 685.9M1070.9 722.6L1098.5 703.8M1093.3 707.3L1098.8 711.7M1072.2 754.0L1096.8 731.4M1092.1 735.7L1098.2 739.2M1073.4 785.3L1097.5 762.2M1093.0 766.5L1099.1 769.9M1074.7 816.5L1096.6 791.4M1092.5 796.2L1098.9 799.0M1076.0 847.7L1098.5 823.1M1094.3 827.7L1100.6 830.7M1077.2 878.8L1098.0 852.8M1094.1 857.7L1100.6 860.2M1078.4 909.9L1100.4 884.8M1096.3 889.5L1102.7 892.3M1079.7 940.8L1094.6 911.0M1091.8 916.6L1098.7 917.7M1080.9 971.7L1105.5 949.3M1100.9 953.5L1107.0 957.0M1082.2 1002.6L1097.5 973.0M1094.7 978.6L1101.5 979.8M1083.4 1033.4L1101.6 1005.5M1098.2 1010.7L1104.9 1012.6M1084.6 1064.1L1102.1 1035.7M1098.8 1041.0L1105.6 1042.7M1085.8 1094.7L1088.9 1061.5M1088.4 1067.8L1095.2 1066.3M1087.0 1125.3L1086.0 1092.0M1086.2 1098.2L1092.8 1095.9M1088.2 1155.8L1085.0 1122.6M1085.6 1128.9L1092.1 1126.2M1089.4 1186.3L1084.1 1153.4M1085.1 1159.5L1091.4 1156.4M1090.6 1216.7L1083.3 1184.2M1084.7 1190.3L1090.7 1186.8M1091.8 1247.0L1084.7 1214.5M1086.0 1220.6L1092.1 1217.1M1093.0 1277.3L1089.9 1244.1M1090.4 1250.3L1096.9 1247.6M1085.0 241.4L1117.9 236.1M1111.7 237.1L1114.8 243.3M1086.1 274.0L1117.6 263.0M1111.7 265.1L1115.9 270.7M1087.3 306.4L1120.2 311.4M1114.1 310.5L1115.1 317.4M1089.6 371.1L1122.8 368.6M1122.8 368.6L1128.0 381.5M1090.8 403.4L1123.9 399.7M1123.9 399.7L1129.5 412.4M1091.9 435.5L1124.9 430.4M1124.9 430.4L1131.1 442.9M1093.1 467.6L1126.4 465.1M1120.1 465.6L1122.7 472.1M1094.3 499.6L1127.5 496.8M1121.3 497.4L1123.9 503.8M1095.5 531.5L1128.8 531.1M1122.5 531.2L1124.7 537.8M1096.6 563.3L1129.0 555.2M1122.9 556.7L1126.5 562.7M1097.8 595.1L1131.1 595.7M1124.9 595.6L1126.8 602.3M1099.0 626.8L1132.3 627.4M1126.1 627.3L1128.0 634.0M1100.2 658.4L1131.5 647.2M1125.7 649.3L1129.9 654.9M1101.3 689.9L1130.2 673.2M1124.8 676.4L1129.9 681.1M1102.5 721.4L1130.1 702.7M1124.9 706.2L1130.4 710.5M1103.7 752.8L1129.7 732.0M1124.8 735.9L1130.6 739.8M1104.8 784.1L1127.4 759.6M1123.2 764.2L1129.5 767.2M1106.0 815.4L1127.9 790.3M1123.8 795.0L1130.2 797.8M1107.2 846.6L1132.7 825.1M1127.9 829.2L1133.8 832.9M1108.3 877.7L1128.5 851.1M1124.7 856.1L1131.3 858.5M1109.5 908.7L1135.5 887.9M1130.6 891.8L1136.4 895.7M1110.6 939.7L1133.7 915.6M1129.4 920.1L1135.6 923.2M1111.8 970.6L1134.8 946.5M1130.5 951.1L1136.8 954.2M1112.9 1001.5L1128.8 972.2M1125.8 977.7L1132.7 979.0M1114.1 1032.3L1123.6 1000.3M1121.9 1006.3L1128.8 1006.2M1115.2 1063.0L1122.5 1030.5M1121.2 1036.6L1128.1 1036.0M1116.3 1093.6L1120.5 1060.6M1119.7 1066.8L1126.6 1065.5M1117.5 1124.2L1120.7 1091.1M1120.1 1097.3L1126.9 1095.8M1118.6 1154.8L1133.1 1124.8M1130.4 1130.4L1137.3 1131.4M1119.7 1185.2L1112.1 1152.8M1113.6 1158.9L1119.6 1155.3M1120.8 1215.6L1110.9 1183.8M1112.8 1189.8L1118.5 1185.8M1121.9 1246.0L1110.4 1214.7M1112.6 1220.6L1118.1 1216.3M1123.0 1276.3L1119.8 1243.1M1120.4 1249.3L1126.8 1246.6M1117.0 207.7L1148.4 196.6M1142.5 198.7L1146.7 204.3M1118.0 240.3L1136.2 212.4M1132.8 217.6L1139.5 219.5M1119.1 272.9m-5.0 0a5.0 5.0 0 1 0 10.0 0a5.0 5.0 0 1 0 -10.0 0M1120.1 305.3L1151.5 316.5M1145.6 314.4L1145.4 321.4M1121.2 337.7L1154.5 339.7M1154.5 339.7L1157.8 353.2M1122.3 370.0L1155.3 365.5M1155.3 365.5L1161.2 378.1M1123.3 402.3L1156.4 398.3M1156.4 398.3L1162.1 411.0M1124.4 434.4L1156.7 426.0M1150.6 427.6L1154.3 433.5M1125.5 466.5L1158.6 463.4M1152.4 464.0L1155.1 470.4M1126.5 498.5L1159.8 496.3M1153.6 496.7L1156.1 503.3M1127.6 530.4L1159.8 521.9M1153.8 523.5L1157.5 529.4M1128.7 562.2L1162.0 560.2M1155.7 560.6L1158.2 567.1M1129.8 594.0L1159.7 579.3M1154.1 582.0L1158.9 587.1M1130.8 625.7L1164.0 622.6M1157.8 623.2L1160.5 629.6M1131.9 657.3L1163.6 647.0M1157.7 649.0L1161.7 654.7M1133.0 688.9L1159.9 669.2M1154.9 672.9L1160.5 677.0M1134.1 720.3L1161.0 700.7M1156.0 704.4L1161.6 708.6M1135.1 751.7L1159.3 728.7M1154.8 733.1L1160.9 736.5M1136.2 783.1L1156.4 756.5M1152.6 761.5L1159.2 763.9M1137.3 814.3L1157.8 788.1M1154.0 793.0L1160.5 795.5M1138.4 845.5L1158.2 818.7M1154.5 823.7L1161.1 826.0M1139.4 876.6L1156.0 847.7M1152.9 853.1L1159.7 854.6M1140.5 907.7L1162.0 882.2M1158.0 887.0L1164.4 889.7M1141.6 938.7L1161.0 911.6M1157.3 916.6L1164.0 918.8M1142.6 969.6L1162.6 942.9M1158.9 947.9L1165.5 950.3M1143.7 1000.5L1159.2 970.9M1156.3 976.5L1163.1 977.7M1144.8 1031.3L1155.3 999.6M1153.3 1005.6L1160.3 1005.7M1145.8 1062.0L1152.8 1029.4M1151.5 1035.5L1158.4 1034.9M1146.9 1092.6L1150.2 1059.5M1149.6 1065.7L1156.4 1064.3M1147.9 1123.2L1149.0 1089.9M1148.8 1096.2L1155.5 1094.3M1148.9 1153.8L1150.1 1120.5M1149.8 1126.7L1156.6 1124.9M1150.0 1184.3L1144.7 1151.4M1145.7 1157.5L1151.9 1154.4M1151.0 1214.7L1140.5 1183.1M1142.4 1189.0L1148.1 1184.9M1152.0 1245.0L1145.7 1212.3M1146.9 1218.5L1153.0 1215.1M1153.1 1275.3L1150.5 1242.1M1151.0 1248.3L1157.4 1245.7M1149.2 173.9m-5.0 0a5.0 5.0 0 1 0 10.0 0a5.0 5.0 0 1 0 -10.0 0" fill="none" stroke="#000" stroke-width="4.17" stroke-linecap="round" stroke-linejoin="round"/>
<path d="M117.5 150.5V1259.3M265.3 150.5V1259.3M413.2 150.5V1259.3M561.0 150.5V1259.3M708.8 150.5V1259.3M856.7 150.5V1259.3M1004.5 150.5V1259.3M43.6 224.5H1152.5M43.6 371.5H1152.5M43.6 519.5H1152.5M43.6 667.3H1152.5M43.6 815.3H1152.5M43.6 963.4H1152.5M43.6 1111.4H1152.5" stroke="#b0b0b0" stroke-width="3.33" fill="none"/>
</g>
<rect x="43.6" y="150.5" width="1108.9" height="1108.8" fill="none" stroke="#000" stroke-width="3.33" stroke-linejoin="miter"/>
<rect x="1167.5" y="1148.42" width="55.0" height="111.38" fill="#6628fe"/>
<rect x="1167.5" y="1037.54" width="55.0" height="111.38" fill="#3374f8"/>
<rect x="1167.5" y="926.66" width="55.0" height="111.38" fill="#00b4ec"/>
<rect x="1167.5" y="815.78" width="55.0" height="111.38" fill="#33e3d9"/>
<rect x="1167.5" y="704.90" width="55.0" height="111.38" fill="#66fcc2"/>
<rect x="1167.5" y="594.02" width="55.0" height="111.38" fill="#99fca6"/>
<rect x="1167.5" y="483.14" width="55.0" height="111.38" fill="#cce385"/>
<rect x="1167.5" y="372.26" width="55.0" height="111.38" fill="#ffb462"/>
<rect x="1167.5" y="261.38" width="55.0" height="111.38" fill="#ff743c"/>
<rect x="1167.5" y="150.50" width="55.0" height="111.38" fill="#ff2814"/>
<rect x="1167.5" y="150.5" width="55.0" height="1108.8" fill="none" stroke="#000" stroke-width="3.33"/>
<text x="1251.67" y="1275.43" font-size="41.67">0.001</text>
<text x="1251.67" y="1164.55" font-size="41.67">0.003</text>
<text x="1251.67" y="1053.67" font-size="41.67">0.006</text>
<text x="1251.67" y="942.79" font-size="41.67">0.02</text>
<text x="1251.67" y="831.91" font-size="41.67">0.04</text>
<text x="1251.67" y="721.03" font-size="41.67">0.1</text>
<text x="1251.67" y="610.15" font-size="41.67">0.3</text>
<text x="1251.67" y="499.27" font-size="41.67">0.6</text>
<text x="1251.67" y="388.39" font-size="41.67">2</text>
<text x="1251.67" y="277.51" font-size="41.67">4</text>
<text x="1251.67" y="166.63" font-size="41.67">10</text>
<path d="M1222.5 1259.30h14.58M1222.5 1148.42h14.58M1222.5 1037.54h14.58M1222.5 926.66h14.58M1222.5 815.78h14.58M1222.5 704.90h14.58M1222.5 594.02h14.58M1222.5 483.14h14.58M1222.5 372.26h14.58M1222.5 261.38h14.58M1222.5 150.50h14.58" stroke="#000" stroke-width="3.33" fill="none"/>
<text x="598.2" y="67.6" font-size="50" text-anchor="middle">WRF-Tracer CO_NKR sfc</text>
<text x="667.0" y="126" font-size="50" text-anchor="middle">Init 2024-03-20 1200 Time 2024-03-21 2100 ppm</text>
</svg>
</body></html>
